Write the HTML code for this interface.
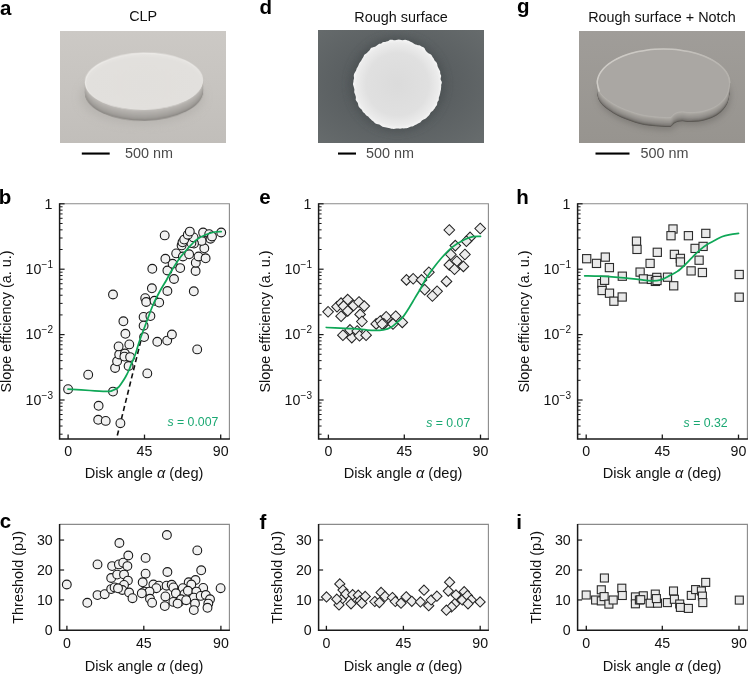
<!DOCTYPE html>
<html><head><meta charset="utf-8"><title>Figure</title>
<style>html,body{margin:0;padding:0;background:#fff;}body{width:748px;height:674px;overflow:hidden;}svg{display:block;}</style>
</head><body>
<svg width="748" height="674" viewBox="0 0 748 674" style="will-change:transform">
<style>
text{font-family:"Liberation Sans",sans-serif;fill:#111;}
.t{font-size:14.2px;}
.s{font-size:10px;}
.L{font-size:20.5px;font-weight:bold;fill:#000;}
.T{font-size:14.4px;}
.X{font-size:14.6px;}
.g{font-size:12.3px;fill:#1aa872;}
.sb{font-size:14.4px;fill:#4a4a4a;}
</style>
<rect width="748" height="674" fill="#fff"/>
<svg x="60" y="31" width="166" height="112" viewBox="0 0 166 112" overflow="hidden">
<defs>
<linearGradient id="abg" x1="0" y1="0" x2="0" y2="1"><stop offset="0" stop-color="#ccc9c5"/><stop offset="0.5" stop-color="#c7c4c0"/><stop offset="1" stop-color="#c1beba"/></linearGradient>
<radialGradient id="atop" cx="0.5" cy="0.55" r="0.6"><stop offset="0" stop-color="#e1dfdc"/><stop offset="0.8" stop-color="#e2e0dd"/><stop offset="1" stop-color="#e9e7e4"/></radialGradient>
<linearGradient id="aside" x1="0" y1="0" x2="0" y2="1"><stop offset="0" stop-color="#c9c6c2"/><stop offset="0.6" stop-color="#b3b0ac"/><stop offset="1" stop-color="#93908c"/></linearGradient>
<filter id="ablur" x="-30%" y="-30%" width="160%" height="160%"><feGaussianBlur stdDeviation="4"/></filter>
<filter id="ablur1"><feGaussianBlur stdDeviation="0.55"/></filter>
</defs>
<rect width="166" height="112" fill="url(#abg)"/>
<ellipse cx="82" cy="66" rx="62" ry="28" fill="#b3b0ac" filter="url(#ablur)" opacity="0.7"/>
<g filter="url(#ablur1)" transform="rotate(-1.2 84 55)">
<ellipse cx="84" cy="61.10" rx="59.1" ry="28.6" fill="#86837f"/>
<ellipse cx="84" cy="60.49" rx="59.1" ry="28.6" fill="#8e8b87"/>
<ellipse cx="84" cy="59.89" rx="59.1" ry="28.6" fill="#96938f"/>
<ellipse cx="84" cy="59.28" rx="59.1" ry="28.6" fill="#9a9793"/>
<ellipse cx="84" cy="58.68" rx="59.1" ry="28.6" fill="#9e9b97"/>
<ellipse cx="84" cy="58.07" rx="59.1" ry="28.6" fill="#a19e9a"/>
<ellipse cx="84" cy="57.47" rx="59.1" ry="28.6" fill="#a4a19d"/>
<ellipse cx="84" cy="56.86" rx="59.1" ry="28.6" fill="#a6a39f"/>
<ellipse cx="84" cy="56.26" rx="59.1" ry="28.6" fill="#a8a5a1"/>
<ellipse cx="84" cy="55.65" rx="59.1" ry="28.6" fill="#aaa8a4"/>
<ellipse cx="84" cy="55.04" rx="59.1" ry="28.6" fill="#adaaa6"/>
<ellipse cx="84" cy="54.44" rx="59.1" ry="28.6" fill="#afaca8"/>
<ellipse cx="84" cy="53.83" rx="59.1" ry="28.6" fill="#b1aeaa"/>
<ellipse cx="84" cy="53.23" rx="59.1" ry="28.6" fill="#b3b0ac"/>
<ellipse cx="84" cy="52.62" rx="59.1" ry="28.6" fill="#b6b3af"/>
<ellipse cx="84" cy="52.02" rx="59.1" ry="28.6" fill="#b9b6b2"/>
<ellipse cx="84" cy="51.41" rx="59.1" ry="28.6" fill="#bcb9b5"/>
<ellipse cx="84" cy="50.81" rx="59.1" ry="28.6" fill="#bfbcb8"/>
<ellipse cx="84" cy="50.2" rx="59.1" ry="28.6" fill="#ebe9e6"/>
<ellipse cx="84.4" cy="50.8" rx="58.3" ry="27.8" fill="url(#atop)"/>
</g>
</svg>
<svg x="318" y="30" width="166" height="113" viewBox="0 0 166 113" overflow="hidden">
<defs>
<radialGradient id="dbg" cx="0.48" cy="0.48" r="0.72"><stop offset="0" stop-color="#4d5254"/><stop offset="0.5" stop-color="#5b6062"/><stop offset="1" stop-color="#676c6d"/></radialGradient>
<radialGradient id="dc" cx="0.5" cy="0.5" r="0.5"><stop offset="0" stop-color="#dbdbdb"/><stop offset="0.7" stop-color="#e0e0e0"/><stop offset="0.92" stop-color="#ebebeb"/><stop offset="1" stop-color="#f5f5f5"/></radialGradient>
<filter id="drough" x="-10%" y="-10%" width="120%" height="120%"><feGaussianBlur stdDeviation="0.45"/></filter>
<filter id="dsh" x="-30%" y="-30%" width="160%" height="160%"><feGaussianBlur stdDeviation="4"/></filter>
</defs>
<rect width="166" height="113" fill="url(#dbg)"/>
<circle cx="79.4" cy="54.2" r="47" fill="#4a4f51" filter="url(#dsh)" opacity="0.8"/>
<polygon points="123.32,54.30 123.16,55.56 123.21,56.83 123.04,58.08 122.99,59.35 122.75,60.59 122.41,61.81 122.23,63.06 121.93,64.28 121.61,65.50 121.14,66.67 120.78,67.87 120.84,69.22 120.59,70.48 119.74,71.50 119.20,72.64 119.16,74.02 118.85,75.30 118.01,76.29 117.31,77.36 116.66,78.45 115.79,79.40 115.12,80.47 114.19,81.36 113.11,82.10 112.31,83.05 111.77,84.25 111.09,85.35 110.09,86.13 109.25,87.08 108.38,88.01 107.33,88.73 106.24,89.37 105.03,89.84 103.93,90.43 103.08,91.41 102.22,92.41 101.10,92.99 99.96,93.51 98.90,94.21 97.74,94.69 96.60,95.23 95.56,96.01 94.35,96.40 93.06,96.52 91.89,96.96 90.74,97.56 89.57,98.08 88.29,98.19 87.02,98.27 85.79,98.51 84.50,98.35 83.25,98.51 82.01,98.77 80.75,98.58 79.50,98.43 78.25,98.44 76.98,98.79 75.71,98.98 74.44,98.86 73.20,98.63 71.98,98.24 70.74,98.05 69.49,97.85 68.29,97.43 67.06,97.14 65.75,97.08 64.53,96.72 63.45,96.00 62.40,95.23 61.32,94.57 60.06,94.28 58.76,94.05 57.54,93.62 56.56,92.76 55.77,91.65 54.73,90.93 53.70,90.21 52.86,89.25 51.90,88.44 51.01,87.56 50.22,86.57 49.15,85.89 48.04,85.23 47.32,84.17 46.58,83.15 45.47,82.44 44.58,81.53 44.09,80.32 43.35,79.30 42.32,78.46 41.38,77.54 40.64,76.49 40.26,75.24 40.08,73.90 39.69,72.69 38.96,71.63 38.04,70.62 37.66,69.40 37.89,67.97 37.83,66.68 37.44,65.48 37.00,64.30 36.47,63.12 36.18,61.88 36.34,60.58 36.37,59.31 36.02,58.08 35.70,56.83 35.31,55.58 34.98,54.30 35.14,53.02 35.42,51.75 35.47,50.48 35.78,49.23 36.09,47.99 35.86,46.66 35.79,45.34 36.06,44.09 36.57,42.89 37.29,41.77 37.96,40.65 38.38,39.46 38.74,38.25 39.46,37.18 40.13,36.11 40.56,34.93 41.03,33.77 41.62,32.66 42.42,31.68 43.16,30.68 43.77,29.59 44.37,28.48 45.06,27.44 45.69,26.33 46.11,25.04 47.00,24.13 48.22,23.55 49.15,22.71 49.96,21.74 50.92,20.94 51.80,20.04 52.41,18.77 53.29,17.83 54.56,17.41 55.83,17.05 57.07,16.67 58.17,16.09 59.17,15.32 60.15,14.49 61.21,13.79 62.52,13.65 63.67,13.18 64.65,12.20 65.88,11.91 67.18,11.88 68.40,11.58 69.62,11.34 70.76,10.66 71.89,9.85 73.15,9.63 74.46,9.86 75.75,10.15 77.01,10.25 78.25,10.06 79.50,9.69 80.76,9.54 82.02,9.68 83.25,10.12 84.49,10.27 85.82,9.88 87.13,9.73 88.37,10.03 89.60,10.39 90.82,10.75 91.96,11.38 93.06,12.10 94.23,12.55 95.34,13.14 96.35,13.96 97.47,14.49 98.68,14.83 99.93,15.15 101.27,15.32 102.47,15.79 103.48,16.57 104.67,17.08 105.86,17.62 106.72,18.61 107.33,19.88 108.03,21.00 108.91,21.89 109.80,22.77 110.81,23.53 112.03,24.10 113.18,24.79 113.93,25.83 114.50,27.00 115.31,27.99 115.95,29.10 116.38,30.33 117.30,31.25 118.31,32.14 118.90,33.28 119.29,34.51 119.48,35.84 119.87,37.04 120.54,38.14 121.05,39.31 121.73,40.42 122.21,41.62 122.13,42.97 122.42,44.21 123.07,45.37 123.11,46.67 122.69,48.02 122.58,49.30 123.04,50.52 123.77,51.74 123.86,53.02" fill="url(#dc)" filter="url(#drough)"/>
</svg>
<svg x="579" y="31" width="166" height="112" viewBox="0 0 166 112" overflow="hidden">
<defs>
<linearGradient id="gbg" x1="0" y1="0" x2="0" y2="1"><stop offset="0" stop-color="#a09d99"/><stop offset="1" stop-color="#97948f"/></linearGradient>
<linearGradient id="gside" x1="0" y1="0.45" x2="0" y2="0.85" gradientUnits="objectBoundingBox"><stop offset="0" stop-color="#aeaba6"/><stop offset="0.5" stop-color="#95928e"/><stop offset="1" stop-color="#64615d"/></linearGradient>
<filter id="gbl" x="-30%" y="-30%" width="160%" height="160%"><feGaussianBlur stdDeviation="3"/></filter>
<filter id="gbl1"><feGaussianBlur stdDeviation="0.5"/></filter>
</defs>
<rect width="166" height="112" fill="url(#gbg)"/>
<path d="M151.7 64.5C151.60 63.76 151.51 61.53 151.13 60.06C150.75 58.59 150.19 57.13 149.44 55.7C148.69 54.27 147.76 52.86 146.66 51.49C145.56 50.12 144.27 48.78 142.83 47.5C141.39 46.22 139.77 44.97 138.02 43.8C136.27 42.63 134.35 41.51 132.31 40.46C130.27 39.41 128.09 38.43 125.8 37.53C123.52 36.63 121.09 35.80 118.6 35.06C116.10 34.32 113.49 33.66 110.83 33.09C108.17 32.52 105.41 32.04 102.63 31.66C99.85 31.28 97.00 30.98 94.14 30.79C91.28 30.60 88.38 30.50 85.5 30.5C82.62 30.50 79.72 30.60 76.86 30.79C74.00 30.98 71.15 31.28 68.37 31.66C65.59 32.04 62.83 32.52 60.17 33.09C57.51 33.66 54.89 34.32 52.4 35.06C49.91 35.80 47.48 36.63 45.2 37.53C42.92 38.43 40.73 39.41 38.69 40.46C36.65 41.51 34.73 42.63 32.980000000000004 43.8C31.23 44.97 29.61 46.22 28.17 47.5C26.73 48.78 25.44 50.12 24.34 51.49C23.24 52.86 22.30 54.27 21.56 55.7C20.81 57.13 20.25 58.59 19.87 60.06C19.49 61.53 19.06 62.33 19.3 64.5C19.54 66.67 19.62 70.28 21.3 73.1C22.98 75.92 25.73 78.67 29.4 81.4C33.07 84.13 37.87 87.07 43.3 89.5C48.73 91.93 56.22 94.52 62.0 96.0C67.78 97.48 73.18 97.88 78.0 98.4C82.82 98.92 88.30 99.15 90.9 99.1C93.50 99.05 92.72 98.70 93.6 98.1C94.48 97.50 95.13 96.22 96.2 95.5C97.27 94.78 98.57 94.17 100.0 93.8C101.43 93.43 102.80 93.25 104.8 93.3C106.80 93.35 108.82 94.15 112.0 94.1C115.18 94.05 119.95 93.85 123.9 93.0C127.85 92.15 132.35 90.67 135.7 89.0C139.05 87.33 141.70 85.33 144.0 83.0C146.30 80.67 148.22 78.08 149.5 75.0C150.78 71.92 151.33 66.25 151.7 64.5Z" fill="#6a6763" filter="url(#gbl)" opacity="0.55"/>
<g filter="url(#gbl1)">
<path d="M150.7 61.4C150.60 60.66 150.51 58.43 150.13 56.96C149.75 55.49 149.19 54.03 148.44 52.6C147.69 51.17 146.76 49.76 145.66 48.39C144.56 47.02 143.27 45.68 141.83 44.4C140.39 43.12 138.77 41.87 137.02 40.7C135.27 39.53 133.35 38.41 131.31 37.36C129.27 36.31 127.08 35.33 124.8 34.43C122.52 33.53 120.09 32.70 117.6 31.96C115.10 31.22 112.49 30.56 109.83 29.990000000000002C107.17 29.42 104.41 28.94 101.63 28.560000000000002C98.85 28.18 96.00 27.88 93.14 27.689999999999998C90.28 27.50 87.38 27.40 84.5 27.4C81.62 27.40 78.72 27.50 75.86 27.689999999999998C73.00 27.88 70.15 28.18 67.37 28.560000000000002C64.59 28.94 61.83 29.42 59.17 29.990000000000002C56.51 30.56 53.89 31.22 51.4 31.96C48.91 32.70 46.48 33.53 44.2 34.43C41.92 35.33 39.73 36.31 37.69 37.36C35.65 38.41 33.73 39.53 31.98 40.7C30.23 41.87 28.61 43.12 27.17 44.4C25.73 45.68 24.44 47.02 23.34 48.39C22.24 49.76 21.30 51.17 20.56 52.6C19.81 54.03 19.25 55.49 18.87 56.96C18.49 58.43 18.06 59.23 18.3 61.4C18.54 63.57 18.62 67.18 20.3 70.0C21.98 72.82 24.73 75.57 28.4 78.30000000000001C32.07 81.03 36.87 83.97 42.3 86.4C47.73 88.83 55.22 91.42 61 92.9C66.78 94.38 72.18 94.78 77 95.30000000000001C81.82 95.82 87.30 96.05 89.9 96.0C92.50 95.95 91.72 95.60 92.6 95.0C93.48 94.40 94.13 93.12 95.2 92.4C96.27 91.68 97.57 91.07 99 90.7C100.43 90.33 101.80 90.15 103.8 90.2C105.80 90.25 107.82 91.05 111 91.0C114.18 90.95 118.95 90.75 122.9 89.9C126.85 89.05 131.35 87.57 134.7 85.9C138.05 84.23 140.70 82.23 143 79.9C145.30 77.57 147.22 74.98 148.5 71.9C149.78 68.82 150.33 63.15 150.7 61.4Z" fill="#575450"/>
<path d="M150.7 60.87777777777778C150.60 60.14 150.51 57.90 150.13 56.43777777777778C149.75 54.97 149.19 53.51 148.44 52.07777777777778C147.69 50.65 146.76 49.23 145.66 47.86777777777778C144.56 46.50 143.27 45.16 141.83 43.87777777777778C140.39 42.60 138.77 41.35 137.02 40.17777777777778C135.27 39.00 133.35 37.88 131.31 36.83777777777778C129.27 35.79 127.08 34.81 124.8 33.90777777777778C122.52 33.01 120.09 32.18 117.6 31.437777777777775C115.10 30.70 112.49 30.03 109.83 29.467777777777776C107.17 28.90 104.41 28.42 101.63 28.037777777777777C98.85 27.65 96.00 27.36 93.14 27.16777777777778C90.28 26.97 87.38 26.88 84.5 26.87777777777778C81.62 26.88 78.72 26.97 75.86 27.16777777777778C73.00 27.36 70.15 27.65 67.37 28.037777777777777C64.59 28.42 61.83 28.90 59.17 29.467777777777776C56.51 30.03 53.89 30.70 51.4 31.437777777777775C48.91 32.18 46.48 33.01 44.2 33.90777777777778C41.92 34.81 39.73 35.79 37.69 36.83777777777778C35.65 37.88 33.73 39.00 31.98 40.17777777777778C30.23 41.35 28.61 42.60 27.17 43.87777777777778C25.73 45.16 24.44 46.50 23.34 47.86777777777778C22.24 49.23 21.30 50.65 20.56 52.07777777777778C19.81 53.51 19.25 54.97 18.87 56.43777777777778C18.49 57.90 18.06 58.70 18.3 60.87777777777778C18.54 63.05 18.62 66.66 20.3 69.47777777777777C21.98 72.29 24.73 75.04 28.4 77.77777777777779C32.07 80.51 36.87 83.44 42.3 85.87777777777778C47.73 88.31 55.22 90.89 61 92.37777777777778C66.78 93.86 72.18 94.26 77 94.77777777777779C81.82 95.29 87.30 95.53 89.9 95.47777777777777C92.50 95.43 91.72 95.08 92.6 94.47777777777777C93.48 93.88 94.13 92.59 95.2 91.87777777777778C96.27 91.16 97.57 90.54 99 90.17777777777778C100.43 89.81 101.80 89.63 103.8 89.67777777777778C105.80 89.73 107.82 90.53 111 90.47777777777777C114.18 90.43 118.95 90.23 122.9 89.37777777777778C126.85 88.53 131.35 87.04 134.7 85.37777777777778C138.05 83.71 140.70 81.71 143 79.37777777777778C145.30 77.04 147.22 74.46 148.5 71.37777777777778C149.78 68.29 150.33 62.63 150.7 60.87777777777778Z" fill="#64615d"/>
<path d="M150.7 60.355555555555554C150.60 59.62 150.51 57.38 150.13 55.91555555555556C149.75 54.45 149.19 52.98 148.44 51.55555555555556C147.69 50.13 146.76 48.71 145.66 47.345555555555556C144.56 45.98 143.27 44.64 141.83 43.355555555555554C140.39 42.07 138.77 40.83 137.02 39.65555555555556C135.27 38.48 133.35 37.36 131.31 36.315555555555555C129.27 35.27 127.08 34.29 124.8 33.385555555555555C122.52 32.49 120.09 31.66 117.6 30.915555555555557C115.10 30.18 112.49 29.51 109.83 28.945555555555558C107.17 28.38 104.41 27.90 101.63 27.515555555555558C98.85 27.13 96.00 26.84 93.14 26.645555555555553C90.28 26.45 87.38 26.36 84.5 26.355555555555554C81.62 26.36 78.72 26.45 75.86 26.645555555555553C73.00 26.84 70.15 27.13 67.37 27.515555555555558C64.59 27.90 61.83 28.38 59.17 28.945555555555558C56.51 29.51 53.89 30.18 51.4 30.915555555555557C48.91 31.66 46.48 32.49 44.2 33.385555555555555C41.92 34.29 39.73 35.27 37.69 36.315555555555555C35.65 37.36 33.73 38.48 31.98 39.65555555555556C30.23 40.83 28.61 42.07 27.17 43.355555555555554C25.73 44.64 24.44 45.98 23.34 47.345555555555556C22.24 48.71 21.30 50.13 20.56 51.55555555555556C19.81 52.98 19.25 54.45 18.87 55.91555555555556C18.49 57.38 18.06 58.18 18.3 60.355555555555554C18.54 62.53 18.62 66.14 20.3 68.95555555555556C21.98 71.77 24.73 74.52 28.4 77.25555555555556C32.07 79.99 36.87 82.92 42.3 85.35555555555555C47.73 87.79 55.22 90.37 61 91.85555555555555C66.78 93.34 72.18 93.74 77 94.25555555555556C81.82 94.77 87.30 95.01 89.9 94.95555555555555C92.50 94.91 91.72 94.56 92.6 93.95555555555555C93.48 93.36 94.13 92.07 95.2 91.35555555555555C96.27 90.64 97.57 90.02 99 89.65555555555555C100.43 89.29 101.80 89.11 103.8 89.15555555555555C105.80 89.21 107.82 90.01 111 89.95555555555555C114.18 89.91 118.95 89.71 122.9 88.85555555555555C126.85 88.01 131.35 86.52 134.7 84.85555555555555C138.05 83.19 140.70 81.19 143 78.85555555555555C145.30 76.52 147.22 73.94 148.5 70.85555555555555C149.78 67.77 150.33 62.11 150.7 60.355555555555554Z" fill="#726f6b"/>
<path d="M150.7 59.833333333333336C150.60 59.09 150.51 56.86 150.13 55.39333333333334C149.75 53.93 149.19 52.46 148.44 51.03333333333334C147.69 49.61 146.76 48.19 145.66 46.82333333333334C144.56 45.46 143.27 44.12 141.83 42.833333333333336C140.39 41.55 138.77 40.31 137.02 39.13333333333333C135.27 37.96 133.35 36.84 131.31 35.79333333333334C129.27 34.75 127.08 33.76 124.8 32.86333333333334C122.52 31.96 120.09 31.13 117.6 30.39333333333333C115.10 29.65 112.49 28.99 109.83 28.423333333333332C107.17 27.86 104.41 27.38 101.63 26.993333333333332C98.85 26.61 96.00 26.32 93.14 26.12333333333333C90.28 25.93 87.38 25.83 84.5 25.833333333333332C81.62 25.83 78.72 25.93 75.86 26.12333333333333C73.00 26.32 70.15 26.61 67.37 26.993333333333332C64.59 27.38 61.83 27.86 59.17 28.423333333333332C56.51 28.99 53.89 29.65 51.4 30.39333333333333C48.91 31.13 46.48 31.96 44.2 32.86333333333334C41.92 33.76 39.73 34.75 37.69 35.79333333333334C35.65 36.84 33.73 37.96 31.98 39.13333333333333C30.23 40.31 28.61 41.55 27.17 42.833333333333336C25.73 44.12 24.44 45.46 23.34 46.82333333333334C22.24 48.19 21.30 49.61 20.56 51.03333333333334C19.81 52.46 19.25 53.93 18.87 55.39333333333334C18.49 56.86 18.06 57.66 18.3 59.833333333333336C18.54 62.01 18.62 65.62 20.3 68.43333333333334C21.98 71.25 24.73 74.00 28.4 76.73333333333333C32.07 79.47 36.87 82.40 42.3 84.83333333333333C47.73 87.27 55.22 89.85 61 91.33333333333333C66.78 92.82 72.18 93.22 77 93.73333333333333C81.82 94.25 87.30 94.48 89.9 94.43333333333332C92.50 94.38 91.72 94.03 92.6 93.43333333333332C93.48 92.83 94.13 91.55 95.2 90.83333333333333C96.27 90.12 97.57 89.50 99 89.13333333333333C100.43 88.77 101.80 88.58 103.8 88.63333333333333C105.80 88.68 107.82 89.48 111 89.43333333333332C114.18 89.38 118.95 89.18 122.9 88.33333333333333C126.85 87.48 131.35 86.00 134.7 84.33333333333333C138.05 82.67 140.70 80.67 143 78.33333333333333C145.30 76.00 147.22 73.42 148.5 70.33333333333333C149.78 67.25 150.33 61.58 150.7 59.833333333333336Z" fill="#7c7975"/>
<path d="M150.7 59.31111111111111C150.60 58.57 150.51 56.34 150.13 54.87111111111111C149.75 53.40 149.19 51.94 148.44 50.51111111111111C147.69 49.08 146.76 47.67 145.66 46.30111111111111C144.56 44.93 143.27 43.59 141.83 42.31111111111111C140.39 41.03 138.77 39.78 137.02 38.611111111111114C135.27 37.44 133.35 36.32 131.31 35.27111111111111C129.27 34.23 127.08 33.24 124.8 32.34111111111111C122.52 31.44 120.09 30.61 117.6 29.87111111111111C115.10 29.13 112.49 28.47 109.83 27.90111111111111C107.17 27.33 104.41 26.85 101.63 26.47111111111111C98.85 26.09 96.00 25.79 93.14 25.60111111111111C90.28 25.41 87.38 25.31 84.5 25.31111111111111C81.62 25.31 78.72 25.41 75.86 25.60111111111111C73.00 25.79 70.15 26.09 67.37 26.47111111111111C64.59 26.85 61.83 27.33 59.17 27.90111111111111C56.51 28.47 53.89 29.13 51.4 29.87111111111111C48.91 30.61 46.48 31.44 44.2 32.34111111111111C41.92 33.24 39.73 34.23 37.69 35.27111111111111C35.65 36.32 33.73 37.44 31.98 38.611111111111114C30.23 39.78 28.61 41.03 27.17 42.31111111111111C25.73 43.59 24.44 44.93 23.34 46.30111111111111C22.24 47.67 21.30 49.08 20.56 50.51111111111111C19.81 51.94 19.25 53.40 18.87 54.87111111111111C18.49 56.34 18.06 57.14 18.3 59.31111111111111C18.54 61.48 18.62 65.09 20.3 67.91111111111111C21.98 70.73 24.73 73.48 28.4 76.21111111111112C32.07 78.94 36.87 81.88 42.3 84.31111111111112C47.73 86.74 55.22 89.33 61 90.81111111111112C66.78 92.29 72.18 92.69 77 93.21111111111112C81.82 93.73 87.30 93.96 89.9 93.91111111111111C92.50 93.86 91.72 93.51 92.6 92.91111111111111C93.48 92.31 94.13 91.03 95.2 90.31111111111112C96.27 89.59 97.57 88.98 99 88.61111111111111C100.43 88.24 101.80 88.06 103.8 88.11111111111111C105.80 88.16 107.82 88.96 111 88.91111111111111C114.18 88.86 118.95 88.66 122.9 87.81111111111112C126.85 86.96 131.35 85.48 134.7 83.81111111111112C138.05 82.14 140.70 80.14 143 77.81111111111112C145.30 75.48 147.22 72.89 148.5 69.81111111111112C149.78 66.73 150.33 61.06 150.7 59.31111111111111Z" fill="#817e7a"/>
<path d="M150.7 58.78888888888889C150.60 58.05 150.51 55.82 150.13 54.348888888888894C149.75 52.88 149.19 51.42 148.44 49.988888888888894C147.69 48.56 146.76 47.15 145.66 45.77888888888889C144.56 44.41 143.27 43.07 141.83 41.78888888888889C140.39 40.51 138.77 39.26 137.02 38.08888888888889C135.27 36.92 133.35 35.79 131.31 34.74888888888889C129.27 33.70 127.08 32.72 124.8 31.81888888888889C122.52 30.92 120.09 30.09 117.6 29.348888888888887C115.10 28.61 112.49 27.95 109.83 27.378888888888888C107.17 26.81 104.41 26.33 101.63 25.948888888888888C98.85 25.57 96.00 25.27 93.14 25.078888888888887C90.28 24.89 87.38 24.79 84.5 24.788888888888888C81.62 24.79 78.72 24.89 75.86 25.078888888888887C73.00 25.27 70.15 25.57 67.37 25.948888888888888C64.59 26.33 61.83 26.81 59.17 27.378888888888888C56.51 27.95 53.89 28.61 51.4 29.348888888888887C48.91 30.09 46.48 30.92 44.2 31.81888888888889C41.92 32.72 39.73 33.70 37.69 34.74888888888889C35.65 35.79 33.73 36.92 31.98 38.08888888888889C30.23 39.26 28.61 40.51 27.17 41.78888888888889C25.73 43.07 24.44 44.41 23.34 45.77888888888889C22.24 47.15 21.30 48.56 20.56 49.988888888888894C19.81 51.42 19.25 52.88 18.87 54.348888888888894C18.49 55.82 18.06 56.62 18.3 58.78888888888889C18.54 60.96 18.62 64.57 20.3 67.38888888888889C21.98 70.21 24.73 72.96 28.4 75.6888888888889C32.07 78.42 36.87 81.36 42.3 83.78888888888889C47.73 86.22 55.22 88.81 61 90.28888888888889C66.78 91.77 72.18 92.17 77 92.6888888888889C81.82 93.21 87.30 93.44 89.9 93.38888888888889C92.50 93.34 91.72 92.99 92.6 92.38888888888889C93.48 91.79 94.13 90.51 95.2 89.78888888888889C96.27 89.07 97.57 88.46 99 88.08888888888889C100.43 87.72 101.80 87.54 103.8 87.58888888888889C105.80 87.64 107.82 88.44 111 88.38888888888889C114.18 88.34 118.95 88.14 122.9 87.28888888888889C126.85 86.44 131.35 84.96 134.7 83.28888888888889C138.05 81.62 140.70 79.62 143 77.28888888888889C145.30 74.96 147.22 72.37 148.5 69.28888888888889C149.78 66.21 150.33 60.54 150.7 58.78888888888889Z" fill="#86837f"/>
<path d="M150.7 58.266666666666666C150.60 57.53 150.51 55.29 150.13 53.82666666666667C149.75 52.36 149.19 50.90 148.44 49.46666666666667C147.69 48.04 146.76 46.62 145.66 45.25666666666667C144.56 43.89 143.27 42.55 141.83 41.266666666666666C140.39 39.98 138.77 38.74 137.02 37.56666666666667C135.27 36.39 133.35 35.27 131.31 34.22666666666667C129.27 33.18 127.08 32.20 124.8 31.296666666666667C122.52 30.40 120.09 29.57 117.6 28.826666666666668C115.10 28.09 112.49 27.42 109.83 26.85666666666667C107.17 26.29 104.41 25.81 101.63 25.42666666666667C98.85 25.04 96.00 24.75 93.14 24.556666666666665C90.28 24.36 87.38 24.27 84.5 24.266666666666666C81.62 24.27 78.72 24.36 75.86 24.556666666666665C73.00 24.75 70.15 25.04 67.37 25.42666666666667C64.59 25.81 61.83 26.29 59.17 26.85666666666667C56.51 27.42 53.89 28.09 51.4 28.826666666666668C48.91 29.57 46.48 30.40 44.2 31.296666666666667C41.92 32.20 39.73 33.18 37.69 34.22666666666667C35.65 35.27 33.73 36.39 31.98 37.56666666666667C30.23 38.74 28.61 39.98 27.17 41.266666666666666C25.73 42.55 24.44 43.89 23.34 45.25666666666667C22.24 46.62 21.30 48.04 20.56 49.46666666666667C19.81 50.90 19.25 52.36 18.87 53.82666666666667C18.49 55.29 18.06 56.09 18.3 58.266666666666666C18.54 60.44 18.62 64.05 20.3 66.86666666666667C21.98 69.68 24.73 72.43 28.4 75.16666666666667C32.07 77.90 36.87 80.83 42.3 83.26666666666667C47.73 85.70 55.22 88.28 61 89.76666666666667C66.78 91.25 72.18 91.65 77 92.16666666666667C81.82 92.68 87.30 92.92 89.9 92.86666666666666C92.50 92.82 91.72 92.47 92.6 91.86666666666666C93.48 91.27 94.13 89.98 95.2 89.26666666666667C96.27 88.55 97.57 87.93 99 87.56666666666666C100.43 87.20 101.80 87.02 103.8 87.06666666666666C105.80 87.12 107.82 87.92 111 87.86666666666666C114.18 87.82 118.95 87.62 122.9 86.76666666666667C126.85 85.92 131.35 84.43 134.7 82.76666666666667C138.05 81.10 140.70 79.10 143 76.76666666666667C145.30 74.43 147.22 71.85 148.5 68.76666666666667C149.78 65.68 150.33 60.02 150.7 58.266666666666666Z" fill="#8b8884"/>
<path d="M150.7 57.74444444444445C150.60 57.00 150.51 54.77 150.13 53.30444444444445C149.75 51.84 149.19 50.37 148.44 48.94444444444445C147.69 47.52 146.76 46.10 145.66 44.73444444444445C144.56 43.37 143.27 42.03 141.83 40.74444444444445C140.39 39.46 138.77 38.22 137.02 37.044444444444444C135.27 35.87 133.35 34.75 131.31 33.70444444444445C129.27 32.66 127.08 31.67 124.8 30.774444444444445C122.52 29.87 120.09 29.04 117.6 28.304444444444442C115.10 27.56 112.49 26.90 109.83 26.334444444444443C107.17 25.77 104.41 25.29 101.63 24.904444444444444C98.85 24.52 96.00 24.23 93.14 24.034444444444443C90.28 23.84 87.38 23.74 84.5 23.744444444444444C81.62 23.74 78.72 23.84 75.86 24.034444444444443C73.00 24.23 70.15 24.52 67.37 24.904444444444444C64.59 25.29 61.83 25.77 59.17 26.334444444444443C56.51 26.90 53.89 27.56 51.4 28.304444444444442C48.91 29.04 46.48 29.87 44.2 30.774444444444445C41.92 31.67 39.73 32.66 37.69 33.70444444444445C35.65 34.75 33.73 35.87 31.98 37.044444444444444C30.23 38.22 28.61 39.46 27.17 40.74444444444445C25.73 42.03 24.44 43.37 23.34 44.73444444444445C22.24 46.10 21.30 47.52 20.56 48.94444444444445C19.81 50.37 19.25 51.84 18.87 53.30444444444445C18.49 54.77 18.06 55.57 18.3 57.74444444444445C18.54 59.92 18.62 63.53 20.3 66.34444444444445C21.98 69.16 24.73 71.91 28.4 74.64444444444445C32.07 77.38 36.87 80.31 42.3 82.74444444444444C47.73 85.18 55.22 87.76 61 89.24444444444444C66.78 90.73 72.18 91.13 77 91.64444444444445C81.82 92.16 87.30 92.39 89.9 92.34444444444443C92.50 92.29 91.72 91.94 92.6 91.34444444444443C93.48 90.74 94.13 89.46 95.2 88.74444444444444C96.27 88.03 97.57 87.41 99 87.04444444444444C100.43 86.68 101.80 86.49 103.8 86.54444444444444C105.80 86.59 107.82 87.39 111 87.34444444444443C114.18 87.29 118.95 87.09 122.9 86.24444444444444C126.85 85.39 131.35 83.91 134.7 82.24444444444444C138.05 80.58 140.70 78.58 143 76.24444444444444C145.30 73.91 147.22 71.33 148.5 68.24444444444444C149.78 65.16 150.33 59.49 150.7 57.74444444444445Z" fill="#908d89"/>
<path d="M150.7 57.22222222222222C150.60 56.48 150.51 54.25 150.13 52.782222222222224C149.75 51.32 149.19 49.85 148.44 48.422222222222224C147.69 46.99 146.76 45.58 145.66 44.21222222222222C144.56 42.85 143.27 41.50 141.83 40.22222222222222C140.39 38.94 138.77 37.70 137.02 36.522222222222226C135.27 35.35 133.35 34.23 131.31 33.18222222222222C129.27 32.14 127.08 31.15 124.8 30.252222222222223C122.52 29.35 120.09 28.52 117.6 27.78222222222222C115.10 27.04 112.49 26.38 109.83 25.81222222222222C107.17 25.25 104.41 24.77 101.63 24.38222222222222C98.85 24.00 96.00 23.71 93.14 23.51222222222222C90.28 23.32 87.38 23.22 84.5 23.22222222222222C81.62 23.22 78.72 23.32 75.86 23.51222222222222C73.00 23.71 70.15 24.00 67.37 24.38222222222222C64.59 24.77 61.83 25.25 59.17 25.81222222222222C56.51 26.38 53.89 27.04 51.4 27.78222222222222C48.91 28.52 46.48 29.35 44.2 30.252222222222223C41.92 31.15 39.73 32.14 37.69 33.18222222222222C35.65 34.23 33.73 35.35 31.98 36.522222222222226C30.23 37.70 28.61 38.94 27.17 40.22222222222222C25.73 41.50 24.44 42.85 23.34 44.21222222222222C22.24 45.58 21.30 46.99 20.56 48.422222222222224C19.81 49.85 19.25 51.32 18.87 52.782222222222224C18.49 54.25 18.06 55.05 18.3 57.22222222222222C18.54 59.40 18.62 63.01 20.3 65.82222222222222C21.98 68.64 24.73 71.39 28.4 74.12222222222223C32.07 76.86 36.87 79.79 42.3 82.22222222222223C47.73 84.66 55.22 87.24 61 88.72222222222223C66.78 90.21 72.18 90.61 77 91.12222222222223C81.82 91.64 87.30 91.87 89.9 91.82222222222222C92.50 91.77 91.72 91.42 92.6 90.82222222222222C93.48 90.22 94.13 88.94 95.2 88.22222222222223C96.27 87.51 97.57 86.89 99 86.52222222222223C100.43 86.16 101.80 85.97 103.8 86.02222222222223C105.80 86.07 107.82 86.87 111 86.82222222222222C114.18 86.77 118.95 86.57 122.9 85.72222222222223C126.85 84.87 131.35 83.39 134.7 81.72222222222223C138.05 80.06 140.70 78.06 143 75.72222222222223C145.30 73.39 147.22 70.81 148.5 67.72222222222223C149.78 64.64 150.33 58.97 150.7 57.22222222222222Z" fill="#93908c"/>
<path d="M150.7 56.7C150.60 55.96 150.51 53.73 150.13 52.260000000000005C149.75 50.79 149.19 49.33 148.44 47.900000000000006C147.69 46.47 146.76 45.06 145.66 43.690000000000005C144.56 42.32 143.27 40.98 141.83 39.7C140.39 38.42 138.77 37.17 137.02 36.0C135.27 34.83 133.35 33.71 131.31 32.660000000000004C129.27 31.62 127.08 30.63 124.8 29.73C122.52 28.83 120.09 28.00 117.6 27.259999999999998C115.10 26.52 112.49 25.86 109.83 25.29C107.17 24.72 104.41 24.24 101.63 23.86C98.85 23.48 96.00 23.18 93.14 22.99C90.28 22.80 87.38 22.70 84.5 22.7C81.62 22.70 78.72 22.80 75.86 22.99C73.00 23.18 70.15 23.48 67.37 23.86C64.59 24.24 61.83 24.72 59.17 25.29C56.51 25.86 53.89 26.52 51.4 27.259999999999998C48.91 28.00 46.48 28.83 44.2 29.73C41.92 30.63 39.73 31.62 37.69 32.660000000000004C35.65 33.71 33.73 34.83 31.98 36.0C30.23 37.17 28.61 38.42 27.17 39.7C25.73 40.98 24.44 42.32 23.34 43.690000000000005C22.24 45.06 21.30 46.47 20.56 47.900000000000006C19.81 49.33 19.25 50.79 18.87 52.260000000000005C18.49 53.73 18.06 54.53 18.3 56.7C18.54 58.87 18.62 62.48 20.3 65.3C21.98 68.12 24.73 70.87 28.4 73.60000000000001C32.07 76.33 36.87 79.27 42.3 81.7C47.73 84.13 55.22 86.72 61 88.2C66.78 89.68 72.18 90.08 77 90.60000000000001C81.82 91.12 87.30 91.35 89.9 91.3C92.50 91.25 91.72 90.90 92.6 90.3C93.48 89.70 94.13 88.42 95.2 87.7C96.27 86.98 97.57 86.37 99 86.0C100.43 85.63 101.80 85.45 103.8 85.5C105.80 85.55 107.82 86.35 111 86.3C114.18 86.25 118.95 86.05 122.9 85.2C126.85 84.35 131.35 82.87 134.7 81.2C138.05 79.53 140.70 77.53 143 75.2C145.30 72.87 147.22 70.28 148.5 67.2C149.78 64.12 150.33 58.45 150.7 56.7Z" fill="#96938f"/>
<path d="M150.7 56.17777777777778C150.60 55.44 150.51 53.20 150.13 51.73777777777778C149.75 50.27 149.19 48.81 148.44 47.37777777777778C147.69 45.95 146.76 44.53 145.66 43.16777777777778C144.56 41.80 143.27 40.46 141.83 39.17777777777778C140.39 37.90 138.77 36.65 137.02 35.47777777777778C135.27 34.30 133.35 33.18 131.31 32.13777777777778C129.27 31.09 127.08 30.11 124.8 29.20777777777778C122.52 28.31 120.09 27.48 117.6 26.737777777777776C115.10 26.00 112.49 25.33 109.83 24.767777777777777C107.17 24.20 104.41 23.72 101.63 23.337777777777777C98.85 22.95 96.00 22.66 93.14 22.467777777777776C90.28 22.27 87.38 22.18 84.5 22.177777777777777C81.62 22.18 78.72 22.27 75.86 22.467777777777776C73.00 22.66 70.15 22.95 67.37 23.337777777777777C64.59 23.72 61.83 24.20 59.17 24.767777777777777C56.51 25.33 53.89 26.00 51.4 26.737777777777776C48.91 27.48 46.48 28.31 44.2 29.20777777777778C41.92 30.11 39.73 31.09 37.69 32.13777777777778C35.65 33.18 33.73 34.30 31.98 35.47777777777778C30.23 36.65 28.61 37.90 27.17 39.17777777777778C25.73 40.46 24.44 41.80 23.34 43.16777777777778C22.24 44.53 21.30 45.95 20.56 47.37777777777778C19.81 48.81 19.25 50.27 18.87 51.73777777777778C18.49 53.20 18.06 54.00 18.3 56.17777777777778C18.54 58.35 18.62 61.96 20.3 64.77777777777779C21.98 67.59 24.73 70.34 28.4 73.07777777777778C32.07 75.81 36.87 78.74 42.3 81.17777777777778C47.73 83.61 55.22 86.19 61 87.67777777777778C66.78 89.16 72.18 89.56 77 90.07777777777778C81.82 90.59 87.30 90.83 89.9 90.77777777777777C92.50 90.73 91.72 90.38 92.6 89.77777777777777C93.48 89.18 94.13 87.89 95.2 87.17777777777778C96.27 86.46 97.57 85.84 99 85.47777777777777C100.43 85.11 101.80 84.93 103.8 84.97777777777777C105.80 85.03 107.82 85.83 111 85.77777777777777C114.18 85.73 118.95 85.53 122.9 84.67777777777778C126.85 83.83 131.35 82.34 134.7 80.67777777777778C138.05 79.01 140.70 77.01 143 74.67777777777778C145.30 72.34 147.22 69.76 148.5 66.67777777777778C149.78 63.59 150.33 57.93 150.7 56.17777777777778Z" fill="#999692"/>
<path d="M150.7 55.65555555555556C150.60 54.92 150.51 52.68 150.13 51.21555555555556C149.75 49.75 149.19 48.28 148.44 46.85555555555556C147.69 45.43 146.76 44.01 145.66 42.64555555555556C144.56 41.28 143.27 39.94 141.83 38.65555555555556C140.39 37.37 138.77 36.13 137.02 34.955555555555556C135.27 33.78 133.35 32.66 131.31 31.615555555555556C129.27 30.57 127.08 29.59 124.8 28.685555555555556C122.52 27.79 120.09 26.96 117.6 26.215555555555554C115.10 25.48 112.49 24.81 109.83 24.245555555555555C107.17 23.68 104.41 23.20 101.63 22.815555555555555C98.85 22.43 96.00 22.14 93.14 21.945555555555554C90.28 21.75 87.38 21.66 84.5 21.655555555555555C81.62 21.66 78.72 21.75 75.86 21.945555555555554C73.00 22.14 70.15 22.43 67.37 22.815555555555555C64.59 23.20 61.83 23.68 59.17 24.245555555555555C56.51 24.81 53.89 25.48 51.4 26.215555555555554C48.91 26.96 46.48 27.79 44.2 28.685555555555556C41.92 29.59 39.73 30.57 37.69 31.615555555555556C35.65 32.66 33.73 33.78 31.98 34.955555555555556C30.23 36.13 28.61 37.37 27.17 38.65555555555556C25.73 39.94 24.44 41.28 23.34 42.64555555555556C22.24 44.01 21.30 45.43 20.56 46.85555555555556C19.81 48.28 19.25 49.75 18.87 51.21555555555556C18.49 52.68 18.06 53.48 18.3 55.65555555555556C18.54 57.83 18.62 61.44 20.3 64.25555555555556C21.98 67.07 24.73 69.82 28.4 72.55555555555556C32.07 75.29 36.87 78.22 42.3 80.65555555555555C47.73 83.09 55.22 85.67 61 87.15555555555555C66.78 88.64 72.18 89.04 77 89.55555555555556C81.82 90.07 87.30 90.31 89.9 90.25555555555555C92.50 90.21 91.72 89.86 92.6 89.25555555555555C93.48 88.66 94.13 87.37 95.2 86.65555555555555C96.27 85.94 97.57 85.32 99 84.95555555555555C100.43 84.59 101.80 84.41 103.8 84.45555555555555C105.80 84.51 107.82 85.31 111 85.25555555555555C114.18 85.21 118.95 85.01 122.9 84.15555555555555C126.85 83.31 131.35 81.82 134.7 80.15555555555555C138.05 78.49 140.70 76.49 143 74.15555555555555C145.30 71.82 147.22 69.24 148.5 66.15555555555555C149.78 63.07 150.33 57.41 150.7 55.65555555555556Z" fill="#9c9994"/>
<path d="M150.7 55.13333333333333C150.60 54.39 150.51 52.16 150.13 50.693333333333335C149.75 49.23 149.19 47.76 148.44 46.333333333333336C147.69 44.91 146.76 43.49 145.66 42.123333333333335C144.56 40.76 143.27 39.41 141.83 38.13333333333333C140.39 36.85 138.77 35.61 137.02 34.43333333333334C135.27 33.26 133.35 32.14 131.31 31.093333333333334C129.27 30.05 127.08 29.06 124.8 28.163333333333334C122.52 27.26 120.09 26.43 117.6 25.69333333333333C115.10 24.95 112.49 24.29 109.83 23.723333333333333C107.17 23.16 104.41 22.68 101.63 22.293333333333333C98.85 21.91 96.00 21.62 93.14 21.423333333333332C90.28 21.23 87.38 21.13 84.5 21.133333333333333C81.62 21.13 78.72 21.23 75.86 21.423333333333332C73.00 21.62 70.15 21.91 67.37 22.293333333333333C64.59 22.68 61.83 23.16 59.17 23.723333333333333C56.51 24.29 53.89 24.95 51.4 25.69333333333333C48.91 26.43 46.48 27.26 44.2 28.163333333333334C41.92 29.06 39.73 30.05 37.69 31.093333333333334C35.65 32.14 33.73 33.26 31.98 34.43333333333334C30.23 35.61 28.61 36.85 27.17 38.13333333333333C25.73 39.41 24.44 40.76 23.34 42.123333333333335C22.24 43.49 21.30 44.91 20.56 46.333333333333336C19.81 47.76 19.25 49.23 18.87 50.693333333333335C18.49 52.16 18.06 52.96 18.3 55.13333333333333C18.54 57.31 18.62 60.92 20.3 63.733333333333334C21.98 66.55 24.73 69.30 28.4 72.03333333333335C32.07 74.77 36.87 77.70 42.3 80.13333333333334C47.73 82.57 55.22 85.15 61 86.63333333333334C66.78 88.12 72.18 88.52 77 89.03333333333335C81.82 89.55 87.30 89.78 89.9 89.73333333333333C92.50 89.68 91.72 89.33 92.6 88.73333333333333C93.48 88.13 94.13 86.85 95.2 86.13333333333334C96.27 85.42 97.57 84.80 99 84.43333333333334C100.43 84.07 101.80 83.88 103.8 83.93333333333334C105.80 83.98 107.82 84.78 111 84.73333333333333C114.18 84.68 118.95 84.48 122.9 83.63333333333334C126.85 82.78 131.35 81.30 134.7 79.63333333333334C138.05 77.97 140.70 75.97 143 73.63333333333334C145.30 71.30 147.22 68.72 148.5 65.63333333333334C149.78 62.55 150.33 56.88 150.7 55.13333333333333Z" fill="#9f9c97"/>
<path d="M150.7 54.611111111111114C150.60 53.87 150.51 51.64 150.13 50.17111111111112C149.75 48.70 149.19 47.24 148.44 45.81111111111112C147.69 44.38 146.76 42.97 145.66 41.601111111111116C144.56 40.23 143.27 38.89 141.83 37.611111111111114C140.39 36.33 138.77 35.08 137.02 33.91111111111111C135.27 32.74 133.35 31.62 131.31 30.57111111111111C129.27 29.53 127.08 28.54 124.8 27.641111111111112C122.52 26.74 120.09 25.91 117.6 25.17111111111111C115.10 24.43 112.49 23.77 109.83 23.20111111111111C107.17 22.63 104.41 22.15 101.63 21.77111111111111C98.85 21.39 96.00 21.09 93.14 20.90111111111111C90.28 20.71 87.38 20.61 84.5 20.61111111111111C81.62 20.61 78.72 20.71 75.86 20.90111111111111C73.00 21.09 70.15 21.39 67.37 21.77111111111111C64.59 22.15 61.83 22.63 59.17 23.20111111111111C56.51 23.77 53.89 24.43 51.4 25.17111111111111C48.91 25.91 46.48 26.74 44.2 27.641111111111112C41.92 28.54 39.73 29.53 37.69 30.57111111111111C35.65 31.62 33.73 32.74 31.98 33.91111111111111C30.23 35.08 28.61 36.33 27.17 37.611111111111114C25.73 38.89 24.44 40.23 23.34 41.601111111111116C22.24 42.97 21.30 44.38 20.56 45.81111111111112C19.81 47.24 19.25 48.70 18.87 50.17111111111112C18.49 51.64 18.06 52.44 18.3 54.611111111111114C18.54 56.78 18.62 60.39 20.3 63.211111111111116C21.98 66.03 24.73 68.78 28.4 71.51111111111112C32.07 74.24 36.87 77.18 42.3 79.61111111111111C47.73 82.04 55.22 84.63 61 86.11111111111111C66.78 87.59 72.18 87.99 77 88.51111111111112C81.82 89.03 87.30 89.26 89.9 89.21111111111111C92.50 89.16 91.72 88.81 92.6 88.21111111111111C93.48 87.61 94.13 86.33 95.2 85.61111111111111C96.27 84.89 97.57 84.28 99 83.91111111111111C100.43 83.54 101.80 83.36 103.8 83.41111111111111C105.80 83.46 107.82 84.26 111 84.21111111111111C114.18 84.16 118.95 83.96 122.9 83.11111111111111C126.85 82.26 131.35 80.78 134.7 79.11111111111111C138.05 77.44 140.70 75.44 143 73.11111111111111C145.30 70.78 147.22 68.19 148.5 65.11111111111111C149.78 62.03 150.33 56.36 150.7 54.611111111111114Z" fill="#a29f9a"/>
<path d="M150.7 54.08888888888889C150.60 53.35 150.51 51.12 150.13 49.64888888888889C149.75 48.18 149.19 46.72 148.44 45.28888888888889C147.69 43.86 146.76 42.45 145.66 41.07888888888889C144.56 39.71 143.27 38.37 141.83 37.08888888888889C140.39 35.81 138.77 34.56 137.02 33.38888888888889C135.27 32.22 133.35 31.09 131.31 30.04888888888889C129.27 29.00 127.08 28.02 124.8 27.11888888888889C122.52 26.22 120.09 25.39 117.6 24.648888888888887C115.10 23.91 112.49 23.25 109.83 22.67888888888889C107.17 22.11 104.41 21.63 101.63 21.24888888888889C98.85 20.87 96.00 20.57 93.14 20.378888888888888C90.28 20.19 87.38 20.09 84.5 20.08888888888889C81.62 20.09 78.72 20.19 75.86 20.378888888888888C73.00 20.57 70.15 20.87 67.37 21.24888888888889C64.59 21.63 61.83 22.11 59.17 22.67888888888889C56.51 23.25 53.89 23.91 51.4 24.648888888888887C48.91 25.39 46.48 26.22 44.2 27.11888888888889C41.92 28.02 39.73 29.00 37.69 30.04888888888889C35.65 31.09 33.73 32.22 31.98 33.38888888888889C30.23 34.56 28.61 35.81 27.17 37.08888888888889C25.73 38.37 24.44 39.71 23.34 41.07888888888889C22.24 42.45 21.30 43.86 20.56 45.28888888888889C19.81 46.72 19.25 48.18 18.87 49.64888888888889C18.49 51.12 18.06 51.92 18.3 54.08888888888889C18.54 56.26 18.62 59.87 20.3 62.68888888888889C21.98 65.51 24.73 68.26 28.4 70.9888888888889C32.07 73.72 36.87 76.66 42.3 79.08888888888889C47.73 81.52 55.22 84.11 61 85.58888888888889C66.78 87.07 72.18 87.47 77 87.9888888888889C81.82 88.51 87.30 88.74 89.9 88.68888888888888C92.50 88.64 91.72 88.29 92.6 87.68888888888888C93.48 87.09 94.13 85.81 95.2 85.08888888888889C96.27 84.37 97.57 83.76 99 83.38888888888889C100.43 83.02 101.80 82.84 103.8 82.88888888888889C105.80 82.94 107.82 83.74 111 83.68888888888888C114.18 83.64 118.95 83.44 122.9 82.58888888888889C126.85 81.74 131.35 80.26 134.7 78.58888888888889C138.05 76.92 140.70 74.92 143 72.58888888888889C145.30 70.26 147.22 67.67 148.5 64.58888888888889C149.78 61.51 150.33 55.84 150.7 54.08888888888889Z" fill="#a5a29d"/>
<path d="M150.7 53.56666666666667C150.60 52.83 150.51 50.59 150.13 49.12666666666667C149.75 47.66 149.19 46.20 148.44 44.76666666666667C147.69 43.34 146.76 41.92 145.66 40.55666666666667C144.56 39.19 143.27 37.85 141.83 36.56666666666667C140.39 35.29 138.77 34.04 137.02 32.86666666666667C135.27 31.69 133.35 30.57 131.31 29.526666666666667C129.27 28.48 127.08 27.50 124.8 26.596666666666668C122.52 25.70 120.09 24.87 117.6 24.126666666666665C115.10 23.39 112.49 22.72 109.83 22.156666666666666C107.17 21.59 104.41 21.11 101.63 20.726666666666667C98.85 20.34 96.00 20.05 93.14 19.856666666666666C90.28 19.66 87.38 19.57 84.5 19.566666666666666C81.62 19.57 78.72 19.66 75.86 19.856666666666666C73.00 20.05 70.15 20.34 67.37 20.726666666666667C64.59 21.11 61.83 21.59 59.17 22.156666666666666C56.51 22.72 53.89 23.39 51.4 24.126666666666665C48.91 24.87 46.48 25.70 44.2 26.596666666666668C41.92 27.50 39.73 28.48 37.69 29.526666666666667C35.65 30.57 33.73 31.69 31.98 32.86666666666667C30.23 34.04 28.61 35.29 27.17 36.56666666666667C25.73 37.85 24.44 39.19 23.34 40.55666666666667C22.24 41.92 21.30 43.34 20.56 44.76666666666667C19.81 46.20 19.25 47.66 18.87 49.12666666666667C18.49 50.59 18.06 51.39 18.3 53.56666666666667C18.54 55.74 18.62 59.35 20.3 62.16666666666667C21.98 64.98 24.73 67.73 28.4 70.46666666666667C32.07 73.20 36.87 76.13 42.3 78.56666666666666C47.73 81.00 55.22 83.58 61 85.06666666666666C66.78 86.55 72.18 86.95 77 87.46666666666667C81.82 87.98 87.30 88.22 89.9 88.16666666666666C92.50 88.12 91.72 87.77 92.6 87.16666666666666C93.48 86.57 94.13 85.28 95.2 84.56666666666666C96.27 83.85 97.57 83.23 99 82.86666666666666C100.43 82.50 101.80 82.32 103.8 82.36666666666666C105.80 82.42 107.82 83.22 111 83.16666666666666C114.18 83.12 118.95 82.92 122.9 82.06666666666666C126.85 81.22 131.35 79.73 134.7 78.06666666666666C138.05 76.40 140.70 74.40 143 72.06666666666666C145.30 69.73 147.22 67.15 148.5 64.06666666666666C149.78 60.98 150.33 55.32 150.7 53.56666666666667Z" fill="#a9a6a1"/>
<path d="M150.7 53.044444444444444C150.60 52.30 150.51 50.07 150.13 48.60444444444445C149.75 47.14 149.19 45.67 148.44 44.24444444444445C147.69 42.82 146.76 41.40 145.66 40.034444444444446C144.56 38.67 143.27 37.33 141.83 36.044444444444444C140.39 34.76 138.77 33.52 137.02 32.34444444444445C135.27 31.17 133.35 30.05 131.31 29.004444444444445C129.27 27.96 127.08 26.97 124.8 26.074444444444445C122.52 25.17 120.09 24.34 117.6 23.604444444444443C115.10 22.86 112.49 22.20 109.83 21.634444444444444C107.17 21.07 104.41 20.59 101.63 20.204444444444444C98.85 19.82 96.00 19.53 93.14 19.334444444444443C90.28 19.14 87.38 19.04 84.5 19.044444444444444C81.62 19.04 78.72 19.14 75.86 19.334444444444443C73.00 19.53 70.15 19.82 67.37 20.204444444444444C64.59 20.59 61.83 21.07 59.17 21.634444444444444C56.51 22.20 53.89 22.86 51.4 23.604444444444443C48.91 24.34 46.48 25.17 44.2 26.074444444444445C41.92 26.97 39.73 27.96 37.69 29.004444444444445C35.65 30.05 33.73 31.17 31.98 32.34444444444445C30.23 33.52 28.61 34.76 27.17 36.044444444444444C25.73 37.33 24.44 38.67 23.34 40.034444444444446C22.24 41.40 21.30 42.82 20.56 44.24444444444445C19.81 45.67 19.25 47.14 18.87 48.60444444444445C18.49 50.07 18.06 50.87 18.3 53.044444444444444C18.54 55.22 18.62 58.83 20.3 61.644444444444446C21.98 64.46 24.73 67.21 28.4 69.94444444444446C32.07 72.68 36.87 75.61 42.3 78.04444444444445C47.73 80.48 55.22 83.06 61 84.54444444444445C66.78 86.03 72.18 86.43 77 86.94444444444446C81.82 87.46 87.30 87.69 89.9 87.64444444444445C92.50 87.59 91.72 87.24 92.6 86.64444444444445C93.48 86.04 94.13 84.76 95.2 84.04444444444445C96.27 83.33 97.57 82.71 99 82.34444444444445C100.43 81.98 101.80 81.79 103.8 81.84444444444445C105.80 81.89 107.82 82.69 111 82.64444444444445C114.18 82.59 118.95 82.39 122.9 81.54444444444445C126.85 80.69 131.35 79.21 134.7 77.54444444444445C138.05 75.88 140.70 73.88 143 71.54444444444445C145.30 69.21 147.22 66.63 148.5 63.544444444444444C149.78 60.46 150.33 54.79 150.7 53.044444444444444Z" fill="#aca9a4"/>
<path d="M150.7 52.522222222222226C150.60 51.78 150.51 49.55 150.13 48.08222222222223C149.75 46.62 149.19 45.15 148.44 43.72222222222223C147.69 42.29 146.76 40.88 145.66 39.51222222222223C144.56 38.15 143.27 36.80 141.83 35.522222222222226C140.39 34.24 138.77 33.00 137.02 31.822222222222223C135.27 30.65 133.35 29.53 131.31 28.482222222222223C129.27 27.44 127.08 26.45 124.8 25.552222222222223C122.52 24.65 120.09 23.82 117.6 23.08222222222222C115.10 22.34 112.49 21.68 109.83 21.112222222222222C107.17 20.55 104.41 20.07 101.63 19.682222222222222C98.85 19.30 96.00 19.01 93.14 18.81222222222222C90.28 18.62 87.38 18.52 84.5 18.522222222222222C81.62 18.52 78.72 18.62 75.86 18.81222222222222C73.00 19.01 70.15 19.30 67.37 19.682222222222222C64.59 20.07 61.83 20.55 59.17 21.112222222222222C56.51 21.68 53.89 22.34 51.4 23.08222222222222C48.91 23.82 46.48 24.65 44.2 25.552222222222223C41.92 26.45 39.73 27.44 37.69 28.482222222222223C35.65 29.53 33.73 30.65 31.98 31.822222222222223C30.23 33.00 28.61 34.24 27.17 35.522222222222226C25.73 36.80 24.44 38.15 23.34 39.51222222222223C22.24 40.88 21.30 42.29 20.56 43.72222222222223C19.81 45.15 19.25 46.62 18.87 48.08222222222223C18.49 49.55 18.06 50.35 18.3 52.522222222222226C18.54 54.70 18.62 58.31 20.3 61.12222222222223C21.98 63.94 24.73 66.69 28.4 69.42222222222223C32.07 72.16 36.87 75.09 42.3 77.52222222222223C47.73 79.96 55.22 82.54 61 84.02222222222223C66.78 85.51 72.18 85.91 77 86.42222222222223C81.82 86.94 87.30 87.17 89.9 87.12222222222222C92.50 87.07 91.72 86.72 92.6 86.12222222222222C93.48 85.52 94.13 84.24 95.2 83.52222222222223C96.27 82.81 97.57 82.19 99 81.82222222222222C100.43 81.46 101.80 81.27 103.8 81.32222222222222C105.80 81.37 107.82 82.17 111 82.12222222222222C114.18 82.07 118.95 81.87 122.9 81.02222222222223C126.85 80.17 131.35 78.69 134.7 77.02222222222223C138.05 75.36 140.70 73.36 143 71.02222222222223C145.30 68.69 147.22 66.11 148.5 63.022222222222226C149.78 59.94 150.33 54.27 150.7 52.522222222222226Z" fill="#b0ada8"/>
<path d="M150.7 52.0C150.60 51.26 150.51 49.03 150.13 47.56C149.75 46.09 149.19 44.63 148.44 43.2C147.69 41.77 146.76 40.36 145.66 38.99C144.56 37.62 143.27 36.28 141.83 35.0C140.39 33.72 138.77 32.47 137.02 31.3C135.27 30.13 133.35 29.01 131.31 27.96C129.27 26.91 127.08 25.93 124.8 25.03C122.52 24.13 120.09 23.30 117.6 22.56C115.10 21.82 112.49 21.16 109.83 20.59C107.17 20.02 104.41 19.54 101.63 19.16C98.85 18.78 96.00 18.48 93.14 18.29C90.28 18.10 87.38 18.00 84.5 18.0C81.62 18.00 78.72 18.10 75.86 18.29C73.00 18.48 70.15 18.78 67.37 19.16C64.59 19.54 61.83 20.02 59.17 20.59C56.51 21.16 53.89 21.82 51.4 22.56C48.91 23.30 46.48 24.13 44.2 25.03C41.92 25.93 39.73 26.91 37.69 27.96C35.65 29.01 33.73 30.13 31.98 31.3C30.23 32.47 28.61 33.72 27.17 35.0C25.73 36.28 24.44 37.62 23.34 38.99C22.24 40.36 21.30 41.77 20.56 43.2C19.81 44.63 19.25 46.09 18.87 47.56C18.49 49.03 18.06 49.83 18.3 52.0C18.54 54.17 18.62 57.78 20.3 60.6C21.98 63.42 24.73 66.17 28.4 68.9C32.07 71.63 36.87 74.57 42.3 77C47.73 79.43 55.22 82.02 61 83.5C66.78 84.98 72.18 85.38 77 85.9C81.82 86.42 87.30 86.65 89.9 86.6C92.50 86.55 91.72 86.20 92.6 85.6C93.48 85.00 94.13 83.72 95.2 83C96.27 82.28 97.57 81.67 99 81.3C100.43 80.93 101.80 80.75 103.8 80.8C105.80 80.85 107.82 81.65 111 81.6C114.18 81.55 118.95 81.35 122.9 80.5C126.85 79.65 131.35 78.17 134.7 76.5C138.05 74.83 140.70 72.83 143 70.5C145.30 68.17 147.22 65.58 148.5 62.5C149.78 59.42 150.33 53.75 150.7 52Z" fill="#aaa7a3" stroke="#b5b2ad" stroke-width="0.8"/>
<linearGradient id="grim" x1="0" y1="0" x2="1" y2="0"><stop offset="0" stop-color="#cfccc7"/><stop offset="0.6" stop-color="#c8c5c0"/><stop offset="1" stop-color="#b5b2ad"/></linearGradient>
<path d="M20.3 60.6C19.97 59.17 18.54 54.17 18.3 52.0C18.06 49.83 18.49 49.03 18.87 47.56C19.25 46.09 19.81 44.63 20.56 43.2C21.30 41.77 22.24 40.36 23.34 38.99C24.44 37.62 25.73 36.28 27.17 35.0C28.61 33.72 30.23 32.47 31.98 31.3C33.73 30.13 35.65 29.01 37.69 27.96C39.73 26.91 41.92 25.93 44.2 25.03C46.48 24.13 48.91 23.30 51.4 22.56C53.89 21.82 56.51 21.16 59.17 20.59C61.83 20.02 64.59 19.54 67.37 19.16C70.15 18.78 73.00 18.48 75.86 18.29C78.72 18.10 81.62 18.00 84.5 18.0C87.38 18.00 90.28 18.10 93.14 18.29C96.00 18.48 98.85 18.78 101.63 19.16C104.41 19.54 107.17 20.02 109.83 20.59C112.49 21.16 115.10 21.82 117.6 22.56C120.09 23.30 122.52 24.13 124.8 25.03C127.08 25.93 129.27 26.91 131.31 27.96C133.35 29.01 135.27 30.13 137.02 31.3C138.77 32.47 140.39 33.72 141.83 35.0C143.27 36.28 144.56 37.62 145.66 38.99C146.76 40.36 147.69 41.77 148.44 43.2C149.19 44.63 149.75 46.09 150.13 47.56C150.51 49.03 150.60 51.26 150.7 52.0" fill="none" stroke="url(#grim)" stroke-width="1.5"/>
</g>
</svg>
<text x="143.2" y="21.3" text-anchor="middle" class="T">CLP</text>
<text x="401.1" y="21.6" text-anchor="middle" class="T">Rough surface</text>
<text x="662" y="21.6" text-anchor="middle" class="T">Rough surface + Notch</text>
<rect x="81.8" y="152.5" width="27.9" height="2.1" fill="#000"/>
<text x="125.1" y="158.2" class="sb">500 nm</text>
<rect x="338" y="152.5" width="18" height="2.1" fill="#000"/>
<text x="366" y="158.2" class="sb">500 nm</text>
<rect x="595.5" y="152.5" width="34" height="2.1" fill="#000"/>
<text x="640.5" y="158.2" class="sb">500 nm</text>
<text x="0.1" y="14.8" class="L">a</text>
<text x="259.6" y="14.4" class="L">d</text>
<text x="517" y="13.4" class="L">g</text>
<text x="-1.3" y="204.3" class="L">b</text>
<text x="259.2" y="203.6" class="L">e</text>
<text x="516.2" y="204.2" class="L">h</text>
<text x="-0.2" y="528" class="L">c</text>
<text x="259.6" y="528.6" class="L">f</text>
<text x="516.2" y="528.8" class="L">i</text>
<path d="M59.60 203.80H229.40V439.10" fill="none" stroke="#8a8a8a" stroke-width="1.1"/>
<path d="M59.60 203.30V439.10H229.90" fill="none" stroke="#1a1a1a" stroke-width="1.5"/>
<line x1="59.6" y1="203.80" x2="64.6" y2="203.80" stroke="#1a1a1a" stroke-width="1.2"/>
<line x1="59.6" y1="269.20" x2="64.6" y2="269.20" stroke="#1a1a1a" stroke-width="1.2"/>
<line x1="59.6" y1="334.60" x2="64.6" y2="334.60" stroke="#1a1a1a" stroke-width="1.2"/>
<line x1="59.6" y1="400.00" x2="64.6" y2="400.00" stroke="#1a1a1a" stroke-width="1.2"/>
<line x1="59.6" y1="249.51" x2="62.6" y2="249.51" stroke="#1a1a1a" stroke-width="1"/>
<line x1="59.6" y1="238.00" x2="62.6" y2="238.00" stroke="#1a1a1a" stroke-width="1"/>
<line x1="59.6" y1="229.83" x2="62.6" y2="229.83" stroke="#1a1a1a" stroke-width="1"/>
<line x1="59.6" y1="223.49" x2="62.6" y2="223.49" stroke="#1a1a1a" stroke-width="1"/>
<line x1="59.6" y1="218.31" x2="62.6" y2="218.31" stroke="#1a1a1a" stroke-width="1"/>
<line x1="59.6" y1="213.93" x2="62.6" y2="213.93" stroke="#1a1a1a" stroke-width="1"/>
<line x1="59.6" y1="210.14" x2="62.6" y2="210.14" stroke="#1a1a1a" stroke-width="1"/>
<line x1="59.6" y1="206.79" x2="62.6" y2="206.79" stroke="#1a1a1a" stroke-width="1"/>
<line x1="59.6" y1="314.91" x2="62.6" y2="314.91" stroke="#1a1a1a" stroke-width="1"/>
<line x1="59.6" y1="303.40" x2="62.6" y2="303.40" stroke="#1a1a1a" stroke-width="1"/>
<line x1="59.6" y1="295.23" x2="62.6" y2="295.23" stroke="#1a1a1a" stroke-width="1"/>
<line x1="59.6" y1="288.89" x2="62.6" y2="288.89" stroke="#1a1a1a" stroke-width="1"/>
<line x1="59.6" y1="283.71" x2="62.6" y2="283.71" stroke="#1a1a1a" stroke-width="1"/>
<line x1="59.6" y1="279.33" x2="62.6" y2="279.33" stroke="#1a1a1a" stroke-width="1"/>
<line x1="59.6" y1="275.54" x2="62.6" y2="275.54" stroke="#1a1a1a" stroke-width="1"/>
<line x1="59.6" y1="272.19" x2="62.6" y2="272.19" stroke="#1a1a1a" stroke-width="1"/>
<line x1="59.6" y1="380.31" x2="62.6" y2="380.31" stroke="#1a1a1a" stroke-width="1"/>
<line x1="59.6" y1="368.80" x2="62.6" y2="368.80" stroke="#1a1a1a" stroke-width="1"/>
<line x1="59.6" y1="360.63" x2="62.6" y2="360.63" stroke="#1a1a1a" stroke-width="1"/>
<line x1="59.6" y1="354.29" x2="62.6" y2="354.29" stroke="#1a1a1a" stroke-width="1"/>
<line x1="59.6" y1="349.11" x2="62.6" y2="349.11" stroke="#1a1a1a" stroke-width="1"/>
<line x1="59.6" y1="344.73" x2="62.6" y2="344.73" stroke="#1a1a1a" stroke-width="1"/>
<line x1="59.6" y1="340.94" x2="62.6" y2="340.94" stroke="#1a1a1a" stroke-width="1"/>
<line x1="59.6" y1="337.59" x2="62.6" y2="337.59" stroke="#1a1a1a" stroke-width="1"/>
<line x1="59.6" y1="434.20" x2="62.6" y2="434.20" stroke="#1a1a1a" stroke-width="1"/>
<line x1="59.6" y1="426.03" x2="62.6" y2="426.03" stroke="#1a1a1a" stroke-width="1"/>
<line x1="59.6" y1="419.69" x2="62.6" y2="419.69" stroke="#1a1a1a" stroke-width="1"/>
<line x1="59.6" y1="414.51" x2="62.6" y2="414.51" stroke="#1a1a1a" stroke-width="1"/>
<line x1="59.6" y1="410.13" x2="62.6" y2="410.13" stroke="#1a1a1a" stroke-width="1"/>
<line x1="59.6" y1="406.34" x2="62.6" y2="406.34" stroke="#1a1a1a" stroke-width="1"/>
<line x1="59.6" y1="402.99" x2="62.6" y2="402.99" stroke="#1a1a1a" stroke-width="1"/>
<text x="52.4" y="208.5" text-anchor="end" class="t">1</text>
<text x="41.4" y="273.8" text-anchor="end" class="t">10</text>
<text x="41.6" y="267.7" class="s">−1</text>
<text x="41.4" y="339.2" text-anchor="end" class="t">10</text>
<text x="41.6" y="333.1" class="s">−2</text>
<text x="41.4" y="404.6" text-anchor="end" class="t">10</text>
<text x="41.6" y="398.5" class="s">−3</text>
<line x1="68.1" y1="439.1" x2="68.1" y2="434.6" stroke="#1a1a1a" stroke-width="1.3"/>
<text x="68.1" y="456.3" text-anchor="middle" class="t">0</text>
<line x1="144.5" y1="439.1" x2="144.5" y2="434.6" stroke="#1a1a1a" stroke-width="1.3"/>
<text x="144.5" y="456.3" text-anchor="middle" class="t">45</text>
<line x1="220.7" y1="439.1" x2="220.7" y2="434.6" stroke="#1a1a1a" stroke-width="1.3"/>
<text x="220.7" y="456.3" text-anchor="middle" class="t">90</text>
<text x="144.1" y="478.3" text-anchor="middle" class="X">Disk angle <tspan font-style="italic">α</tspan> (deg)</text>
<text transform="translate(10.5 321.5) rotate(-90)" text-anchor="middle" class="T">Slope efficiency (a. u.)</text>
<path d="M318.60 203.80H488.40V439.10" fill="none" stroke="#8a8a8a" stroke-width="1.1"/>
<path d="M318.60 203.30V439.10H488.90" fill="none" stroke="#1a1a1a" stroke-width="1.5"/>
<line x1="318.6" y1="203.80" x2="323.6" y2="203.80" stroke="#1a1a1a" stroke-width="1.2"/>
<line x1="318.6" y1="269.20" x2="323.6" y2="269.20" stroke="#1a1a1a" stroke-width="1.2"/>
<line x1="318.6" y1="334.60" x2="323.6" y2="334.60" stroke="#1a1a1a" stroke-width="1.2"/>
<line x1="318.6" y1="400.00" x2="323.6" y2="400.00" stroke="#1a1a1a" stroke-width="1.2"/>
<line x1="318.6" y1="249.51" x2="321.6" y2="249.51" stroke="#1a1a1a" stroke-width="1"/>
<line x1="318.6" y1="238.00" x2="321.6" y2="238.00" stroke="#1a1a1a" stroke-width="1"/>
<line x1="318.6" y1="229.83" x2="321.6" y2="229.83" stroke="#1a1a1a" stroke-width="1"/>
<line x1="318.6" y1="223.49" x2="321.6" y2="223.49" stroke="#1a1a1a" stroke-width="1"/>
<line x1="318.6" y1="218.31" x2="321.6" y2="218.31" stroke="#1a1a1a" stroke-width="1"/>
<line x1="318.6" y1="213.93" x2="321.6" y2="213.93" stroke="#1a1a1a" stroke-width="1"/>
<line x1="318.6" y1="210.14" x2="321.6" y2="210.14" stroke="#1a1a1a" stroke-width="1"/>
<line x1="318.6" y1="206.79" x2="321.6" y2="206.79" stroke="#1a1a1a" stroke-width="1"/>
<line x1="318.6" y1="314.91" x2="321.6" y2="314.91" stroke="#1a1a1a" stroke-width="1"/>
<line x1="318.6" y1="303.40" x2="321.6" y2="303.40" stroke="#1a1a1a" stroke-width="1"/>
<line x1="318.6" y1="295.23" x2="321.6" y2="295.23" stroke="#1a1a1a" stroke-width="1"/>
<line x1="318.6" y1="288.89" x2="321.6" y2="288.89" stroke="#1a1a1a" stroke-width="1"/>
<line x1="318.6" y1="283.71" x2="321.6" y2="283.71" stroke="#1a1a1a" stroke-width="1"/>
<line x1="318.6" y1="279.33" x2="321.6" y2="279.33" stroke="#1a1a1a" stroke-width="1"/>
<line x1="318.6" y1="275.54" x2="321.6" y2="275.54" stroke="#1a1a1a" stroke-width="1"/>
<line x1="318.6" y1="272.19" x2="321.6" y2="272.19" stroke="#1a1a1a" stroke-width="1"/>
<line x1="318.6" y1="380.31" x2="321.6" y2="380.31" stroke="#1a1a1a" stroke-width="1"/>
<line x1="318.6" y1="368.80" x2="321.6" y2="368.80" stroke="#1a1a1a" stroke-width="1"/>
<line x1="318.6" y1="360.63" x2="321.6" y2="360.63" stroke="#1a1a1a" stroke-width="1"/>
<line x1="318.6" y1="354.29" x2="321.6" y2="354.29" stroke="#1a1a1a" stroke-width="1"/>
<line x1="318.6" y1="349.11" x2="321.6" y2="349.11" stroke="#1a1a1a" stroke-width="1"/>
<line x1="318.6" y1="344.73" x2="321.6" y2="344.73" stroke="#1a1a1a" stroke-width="1"/>
<line x1="318.6" y1="340.94" x2="321.6" y2="340.94" stroke="#1a1a1a" stroke-width="1"/>
<line x1="318.6" y1="337.59" x2="321.6" y2="337.59" stroke="#1a1a1a" stroke-width="1"/>
<line x1="318.6" y1="434.20" x2="321.6" y2="434.20" stroke="#1a1a1a" stroke-width="1"/>
<line x1="318.6" y1="426.03" x2="321.6" y2="426.03" stroke="#1a1a1a" stroke-width="1"/>
<line x1="318.6" y1="419.69" x2="321.6" y2="419.69" stroke="#1a1a1a" stroke-width="1"/>
<line x1="318.6" y1="414.51" x2="321.6" y2="414.51" stroke="#1a1a1a" stroke-width="1"/>
<line x1="318.6" y1="410.13" x2="321.6" y2="410.13" stroke="#1a1a1a" stroke-width="1"/>
<line x1="318.6" y1="406.34" x2="321.6" y2="406.34" stroke="#1a1a1a" stroke-width="1"/>
<line x1="318.6" y1="402.99" x2="321.6" y2="402.99" stroke="#1a1a1a" stroke-width="1"/>
<text x="311.4" y="208.5" text-anchor="end" class="t">1</text>
<text x="300.4" y="273.8" text-anchor="end" class="t">10</text>
<text x="300.6" y="267.7" class="s">−1</text>
<text x="300.4" y="339.2" text-anchor="end" class="t">10</text>
<text x="300.6" y="333.1" class="s">−2</text>
<text x="300.4" y="404.6" text-anchor="end" class="t">10</text>
<text x="300.6" y="398.5" class="s">−3</text>
<line x1="328.4" y1="439.1" x2="328.4" y2="434.6" stroke="#1a1a1a" stroke-width="1.3"/>
<text x="328.4" y="456.3" text-anchor="middle" class="t">0</text>
<line x1="404.3" y1="439.1" x2="404.3" y2="434.6" stroke="#1a1a1a" stroke-width="1.3"/>
<text x="404.3" y="456.3" text-anchor="middle" class="t">45</text>
<line x1="480.5" y1="439.1" x2="480.5" y2="434.6" stroke="#1a1a1a" stroke-width="1.3"/>
<text x="480.5" y="456.3" text-anchor="middle" class="t">90</text>
<text x="403.1" y="478.3" text-anchor="middle" class="X">Disk angle <tspan font-style="italic">α</tspan> (deg)</text>
<text transform="translate(269.5 321.5) rotate(-90)" text-anchor="middle" class="T">Slope efficiency (a. u.)</text>
<path d="M577.60 203.80H747.40V439.10" fill="none" stroke="#8a8a8a" stroke-width="1.1"/>
<path d="M577.60 203.30V439.10H747.90" fill="none" stroke="#1a1a1a" stroke-width="1.5"/>
<line x1="577.6" y1="203.80" x2="582.6" y2="203.80" stroke="#1a1a1a" stroke-width="1.2"/>
<line x1="577.6" y1="269.20" x2="582.6" y2="269.20" stroke="#1a1a1a" stroke-width="1.2"/>
<line x1="577.6" y1="334.60" x2="582.6" y2="334.60" stroke="#1a1a1a" stroke-width="1.2"/>
<line x1="577.6" y1="400.00" x2="582.6" y2="400.00" stroke="#1a1a1a" stroke-width="1.2"/>
<line x1="577.6" y1="249.51" x2="580.6" y2="249.51" stroke="#1a1a1a" stroke-width="1"/>
<line x1="577.6" y1="238.00" x2="580.6" y2="238.00" stroke="#1a1a1a" stroke-width="1"/>
<line x1="577.6" y1="229.83" x2="580.6" y2="229.83" stroke="#1a1a1a" stroke-width="1"/>
<line x1="577.6" y1="223.49" x2="580.6" y2="223.49" stroke="#1a1a1a" stroke-width="1"/>
<line x1="577.6" y1="218.31" x2="580.6" y2="218.31" stroke="#1a1a1a" stroke-width="1"/>
<line x1="577.6" y1="213.93" x2="580.6" y2="213.93" stroke="#1a1a1a" stroke-width="1"/>
<line x1="577.6" y1="210.14" x2="580.6" y2="210.14" stroke="#1a1a1a" stroke-width="1"/>
<line x1="577.6" y1="206.79" x2="580.6" y2="206.79" stroke="#1a1a1a" stroke-width="1"/>
<line x1="577.6" y1="314.91" x2="580.6" y2="314.91" stroke="#1a1a1a" stroke-width="1"/>
<line x1="577.6" y1="303.40" x2="580.6" y2="303.40" stroke="#1a1a1a" stroke-width="1"/>
<line x1="577.6" y1="295.23" x2="580.6" y2="295.23" stroke="#1a1a1a" stroke-width="1"/>
<line x1="577.6" y1="288.89" x2="580.6" y2="288.89" stroke="#1a1a1a" stroke-width="1"/>
<line x1="577.6" y1="283.71" x2="580.6" y2="283.71" stroke="#1a1a1a" stroke-width="1"/>
<line x1="577.6" y1="279.33" x2="580.6" y2="279.33" stroke="#1a1a1a" stroke-width="1"/>
<line x1="577.6" y1="275.54" x2="580.6" y2="275.54" stroke="#1a1a1a" stroke-width="1"/>
<line x1="577.6" y1="272.19" x2="580.6" y2="272.19" stroke="#1a1a1a" stroke-width="1"/>
<line x1="577.6" y1="380.31" x2="580.6" y2="380.31" stroke="#1a1a1a" stroke-width="1"/>
<line x1="577.6" y1="368.80" x2="580.6" y2="368.80" stroke="#1a1a1a" stroke-width="1"/>
<line x1="577.6" y1="360.63" x2="580.6" y2="360.63" stroke="#1a1a1a" stroke-width="1"/>
<line x1="577.6" y1="354.29" x2="580.6" y2="354.29" stroke="#1a1a1a" stroke-width="1"/>
<line x1="577.6" y1="349.11" x2="580.6" y2="349.11" stroke="#1a1a1a" stroke-width="1"/>
<line x1="577.6" y1="344.73" x2="580.6" y2="344.73" stroke="#1a1a1a" stroke-width="1"/>
<line x1="577.6" y1="340.94" x2="580.6" y2="340.94" stroke="#1a1a1a" stroke-width="1"/>
<line x1="577.6" y1="337.59" x2="580.6" y2="337.59" stroke="#1a1a1a" stroke-width="1"/>
<line x1="577.6" y1="434.20" x2="580.6" y2="434.20" stroke="#1a1a1a" stroke-width="1"/>
<line x1="577.6" y1="426.03" x2="580.6" y2="426.03" stroke="#1a1a1a" stroke-width="1"/>
<line x1="577.6" y1="419.69" x2="580.6" y2="419.69" stroke="#1a1a1a" stroke-width="1"/>
<line x1="577.6" y1="414.51" x2="580.6" y2="414.51" stroke="#1a1a1a" stroke-width="1"/>
<line x1="577.6" y1="410.13" x2="580.6" y2="410.13" stroke="#1a1a1a" stroke-width="1"/>
<line x1="577.6" y1="406.34" x2="580.6" y2="406.34" stroke="#1a1a1a" stroke-width="1"/>
<line x1="577.6" y1="402.99" x2="580.6" y2="402.99" stroke="#1a1a1a" stroke-width="1"/>
<text x="570.4" y="208.5" text-anchor="end" class="t">1</text>
<text x="559.4" y="273.8" text-anchor="end" class="t">10</text>
<text x="559.6" y="267.7" class="s">−1</text>
<text x="559.4" y="339.2" text-anchor="end" class="t">10</text>
<text x="559.6" y="333.1" class="s">−2</text>
<text x="559.4" y="404.6" text-anchor="end" class="t">10</text>
<text x="559.6" y="398.5" class="s">−3</text>
<line x1="586.2" y1="439.1" x2="586.2" y2="434.6" stroke="#1a1a1a" stroke-width="1.3"/>
<text x="586.2" y="456.3" text-anchor="middle" class="t">0</text>
<line x1="662.3" y1="439.1" x2="662.3" y2="434.6" stroke="#1a1a1a" stroke-width="1.3"/>
<text x="662.3" y="456.3" text-anchor="middle" class="t">45</text>
<line x1="738.5" y1="439.1" x2="738.5" y2="434.6" stroke="#1a1a1a" stroke-width="1.3"/>
<text x="738.5" y="456.3" text-anchor="middle" class="t">90</text>
<text x="662.1" y="478.3" text-anchor="middle" class="X">Disk angle <tspan font-style="italic">α</tspan> (deg)</text>
<text transform="translate(528.5 321.5) rotate(-90)" text-anchor="middle" class="T">Slope efficiency (a. u.)</text>
<path d="M59.60 524.40H229.40V630.30" fill="none" stroke="#8a8a8a" stroke-width="1.1"/>
<path d="M59.60 523.90V630.30H229.90" fill="none" stroke="#1a1a1a" stroke-width="1.5"/>
<text x="52.7" y="634.8" text-anchor="end" class="t">0</text>
<line x1="59.6" y1="599.95" x2="64.1" y2="599.95" stroke="#1a1a1a" stroke-width="1.2"/>
<text x="52.7" y="604.8" text-anchor="end" class="t">10</text>
<line x1="59.6" y1="570.00" x2="64.1" y2="570.00" stroke="#1a1a1a" stroke-width="1.2"/>
<text x="52.7" y="574.9" text-anchor="end" class="t">20</text>
<line x1="59.6" y1="540.05" x2="64.1" y2="540.05" stroke="#1a1a1a" stroke-width="1.2"/>
<text x="52.7" y="544.9" text-anchor="end" class="t">30</text>
<line x1="66.9" y1="630.3" x2="66.9" y2="625.8" stroke="#1a1a1a" stroke-width="1.3"/>
<text x="66.9" y="647.8" text-anchor="middle" class="t">0</text>
<line x1="143.8" y1="630.3" x2="143.8" y2="625.8" stroke="#1a1a1a" stroke-width="1.3"/>
<text x="143.8" y="647.8" text-anchor="middle" class="t">45</text>
<line x1="220.9" y1="630.3" x2="220.9" y2="625.8" stroke="#1a1a1a" stroke-width="1.3"/>
<text x="220.9" y="647.8" text-anchor="middle" class="t">90</text>
<text x="144.1" y="670.5" text-anchor="middle" class="X">Disk angle <tspan font-style="italic">α</tspan> (deg)</text>
<text transform="translate(23.4 577.3) rotate(-90)" text-anchor="middle" class="T">Threshold (pJ)</text>
<path d="M318.60 524.40H488.40V630.30" fill="none" stroke="#8a8a8a" stroke-width="1.1"/>
<path d="M318.60 523.90V630.30H488.90" fill="none" stroke="#1a1a1a" stroke-width="1.5"/>
<text x="311.7" y="634.8" text-anchor="end" class="t">0</text>
<line x1="318.6" y1="599.95" x2="323.1" y2="599.95" stroke="#1a1a1a" stroke-width="1.2"/>
<text x="311.7" y="604.8" text-anchor="end" class="t">10</text>
<line x1="318.6" y1="570.00" x2="323.1" y2="570.00" stroke="#1a1a1a" stroke-width="1.2"/>
<text x="311.7" y="574.9" text-anchor="end" class="t">20</text>
<line x1="318.6" y1="540.05" x2="323.1" y2="540.05" stroke="#1a1a1a" stroke-width="1.2"/>
<text x="311.7" y="544.9" text-anchor="end" class="t">30</text>
<line x1="326.4" y1="630.3" x2="326.4" y2="625.8" stroke="#1a1a1a" stroke-width="1.3"/>
<text x="326.4" y="647.8" text-anchor="middle" class="t">0</text>
<line x1="403.4" y1="630.3" x2="403.4" y2="625.8" stroke="#1a1a1a" stroke-width="1.3"/>
<text x="403.4" y="647.8" text-anchor="middle" class="t">45</text>
<line x1="480.2" y1="630.3" x2="480.2" y2="625.8" stroke="#1a1a1a" stroke-width="1.3"/>
<text x="480.2" y="647.8" text-anchor="middle" class="t">90</text>
<text x="403.1" y="670.5" text-anchor="middle" class="X">Disk angle <tspan font-style="italic">α</tspan> (deg)</text>
<text transform="translate(282.4 577.3) rotate(-90)" text-anchor="middle" class="T">Threshold (pJ)</text>
<path d="M577.60 524.40H747.40V630.30" fill="none" stroke="#8a8a8a" stroke-width="1.1"/>
<path d="M577.60 523.90V630.30H747.90" fill="none" stroke="#1a1a1a" stroke-width="1.5"/>
<text x="570.7" y="634.8" text-anchor="end" class="t">0</text>
<line x1="577.6" y1="599.95" x2="582.1" y2="599.95" stroke="#1a1a1a" stroke-width="1.2"/>
<text x="570.7" y="604.8" text-anchor="end" class="t">10</text>
<line x1="577.6" y1="570.00" x2="582.1" y2="570.00" stroke="#1a1a1a" stroke-width="1.2"/>
<text x="570.7" y="574.9" text-anchor="end" class="t">20</text>
<line x1="577.6" y1="540.05" x2="582.1" y2="540.05" stroke="#1a1a1a" stroke-width="1.2"/>
<text x="570.7" y="544.9" text-anchor="end" class="t">30</text>
<line x1="586.3" y1="630.3" x2="586.3" y2="625.8" stroke="#1a1a1a" stroke-width="1.3"/>
<text x="586.3" y="647.8" text-anchor="middle" class="t">0</text>
<line x1="662.3" y1="630.3" x2="662.3" y2="625.8" stroke="#1a1a1a" stroke-width="1.3"/>
<text x="662.3" y="647.8" text-anchor="middle" class="t">45</text>
<line x1="739.0" y1="630.3" x2="739.0" y2="625.8" stroke="#1a1a1a" stroke-width="1.3"/>
<text x="739.0" y="647.8" text-anchor="middle" class="t">90</text>
<text x="662.1" y="670.5" text-anchor="middle" class="X">Disk angle <tspan font-style="italic">α</tspan> (deg)</text>
<text transform="translate(541.4 577.3) rotate(-90)" text-anchor="middle" class="T">Threshold (pJ)</text>
<line x1="117.3" y1="435.5" x2="141" y2="340" stroke="#111" stroke-width="1.6" stroke-dasharray="5.2 3.2"/>
<circle cx="68.1" cy="389.2" r="4.4" fill="#f1f1f1" stroke="#1a1a1a" stroke-width="1.1"/>
<circle cx="88.2" cy="374.7" r="4.4" fill="#f1f1f1" stroke="#1a1a1a" stroke-width="1.1"/>
<circle cx="98.6" cy="405.8" r="4.4" fill="#f1f1f1" stroke="#1a1a1a" stroke-width="1.1"/>
<circle cx="98.2" cy="419.8" r="4.4" fill="#f1f1f1" stroke="#1a1a1a" stroke-width="1.1"/>
<circle cx="105.7" cy="420.9" r="4.4" fill="#f1f1f1" stroke="#1a1a1a" stroke-width="1.1"/>
<circle cx="113" cy="391.6" r="4.4" fill="#f1f1f1" stroke="#1a1a1a" stroke-width="1.1"/>
<circle cx="120.4" cy="423.2" r="4.4" fill="#f1f1f1" stroke="#1a1a1a" stroke-width="1.1"/>
<circle cx="113" cy="294.5" r="4.4" fill="#f1f1f1" stroke="#1a1a1a" stroke-width="1.1"/>
<circle cx="115.1" cy="368" r="4.4" fill="#f1f1f1" stroke="#1a1a1a" stroke-width="1.1"/>
<circle cx="117.1" cy="361.3" r="4.4" fill="#f1f1f1" stroke="#1a1a1a" stroke-width="1.1"/>
<circle cx="119.2" cy="354.5" r="4.4" fill="#f1f1f1" stroke="#1a1a1a" stroke-width="1.1"/>
<circle cx="118.6" cy="346.4" r="4.4" fill="#f1f1f1" stroke="#1a1a1a" stroke-width="1.1"/>
<circle cx="124.9" cy="353.5" r="4.4" fill="#f1f1f1" stroke="#1a1a1a" stroke-width="1.1"/>
<circle cx="124.4" cy="356.6" r="4.4" fill="#f1f1f1" stroke="#1a1a1a" stroke-width="1.1"/>
<circle cx="130.1" cy="357.1" r="4.4" fill="#f1f1f1" stroke="#1a1a1a" stroke-width="1.1"/>
<circle cx="128.6" cy="366" r="4.4" fill="#f1f1f1" stroke="#1a1a1a" stroke-width="1.1"/>
<circle cx="129.3" cy="344.4" r="4.4" fill="#f1f1f1" stroke="#1a1a1a" stroke-width="1.1"/>
<circle cx="123.4" cy="321.3" r="4.4" fill="#f1f1f1" stroke="#1a1a1a" stroke-width="1.1"/>
<circle cx="125.4" cy="333.8" r="4.4" fill="#f1f1f1" stroke="#1a1a1a" stroke-width="1.1"/>
<circle cx="143.6" cy="316.9" r="4.4" fill="#f1f1f1" stroke="#1a1a1a" stroke-width="1.1"/>
<circle cx="150.4" cy="316.1" r="4.4" fill="#f1f1f1" stroke="#1a1a1a" stroke-width="1.1"/>
<circle cx="143.6" cy="325.7" r="4.4" fill="#f1f1f1" stroke="#1a1a1a" stroke-width="1.1"/>
<circle cx="144.1" cy="337.1" r="4.4" fill="#f1f1f1" stroke="#1a1a1a" stroke-width="1.1"/>
<circle cx="147.3" cy="373.4" r="4.4" fill="#f1f1f1" stroke="#1a1a1a" stroke-width="1.1"/>
<circle cx="145.2" cy="298.2" r="4.4" fill="#f1f1f1" stroke="#1a1a1a" stroke-width="1.1"/>
<circle cx="146.2" cy="302" r="4.4" fill="#f1f1f1" stroke="#1a1a1a" stroke-width="1.1"/>
<circle cx="154.5" cy="300.8" r="4.4" fill="#f1f1f1" stroke="#1a1a1a" stroke-width="1.1"/>
<circle cx="159.2" cy="302.6" r="4.4" fill="#f1f1f1" stroke="#1a1a1a" stroke-width="1.1"/>
<circle cx="151.9" cy="288.3" r="4.4" fill="#f1f1f1" stroke="#1a1a1a" stroke-width="1.1"/>
<circle cx="152.3" cy="268.8" r="4.4" fill="#f1f1f1" stroke="#1a1a1a" stroke-width="1.1"/>
<circle cx="157.3" cy="341.8" r="4.4" fill="#f1f1f1" stroke="#1a1a1a" stroke-width="1.1"/>
<circle cx="167.2" cy="340.6" r="4.4" fill="#f1f1f1" stroke="#1a1a1a" stroke-width="1.1"/>
<circle cx="171.9" cy="334.5" r="4.4" fill="#f1f1f1" stroke="#1a1a1a" stroke-width="1.1"/>
<circle cx="197.2" cy="349.4" r="4.4" fill="#f1f1f1" stroke="#1a1a1a" stroke-width="1.1"/>
<circle cx="167.4" cy="291" r="4.4" fill="#f1f1f1" stroke="#1a1a1a" stroke-width="1.1"/>
<circle cx="193.8" cy="291.3" r="4.4" fill="#f1f1f1" stroke="#1a1a1a" stroke-width="1.1"/>
<circle cx="164.7" cy="235.4" r="4.4" fill="#f1f1f1" stroke="#1a1a1a" stroke-width="1.1"/>
<circle cx="167.4" cy="270.5" r="4.4" fill="#f1f1f1" stroke="#1a1a1a" stroke-width="1.1"/>
<circle cx="174" cy="279" r="4.4" fill="#f1f1f1" stroke="#1a1a1a" stroke-width="1.1"/>
<circle cx="180.2" cy="268.1" r="4.4" fill="#f1f1f1" stroke="#1a1a1a" stroke-width="1.1"/>
<circle cx="195.6" cy="271" r="4.4" fill="#f1f1f1" stroke="#1a1a1a" stroke-width="1.1"/>
<circle cx="172.6" cy="263.8" r="4.4" fill="#f1f1f1" stroke="#1a1a1a" stroke-width="1.1"/>
<circle cx="195.8" cy="262.7" r="4.4" fill="#f1f1f1" stroke="#1a1a1a" stroke-width="1.1"/>
<circle cx="176.2" cy="253.4" r="4.4" fill="#f1f1f1" stroke="#1a1a1a" stroke-width="1.1"/>
<circle cx="182.9" cy="256.5" r="4.4" fill="#f1f1f1" stroke="#1a1a1a" stroke-width="1.1"/>
<circle cx="165.4" cy="258.8" r="4.4" fill="#f1f1f1" stroke="#1a1a1a" stroke-width="1.1"/>
<circle cx="189.1" cy="254.3" r="4.4" fill="#f1f1f1" stroke="#1a1a1a" stroke-width="1.1"/>
<circle cx="198.5" cy="256.5" r="4.4" fill="#f1f1f1" stroke="#1a1a1a" stroke-width="1.1"/>
<circle cx="205.6" cy="258.3" r="4.4" fill="#f1f1f1" stroke="#1a1a1a" stroke-width="1.1"/>
<circle cx="204.3" cy="248.3" r="4.4" fill="#f1f1f1" stroke="#1a1a1a" stroke-width="1.1"/>
<circle cx="201.6" cy="240.9" r="4.4" fill="#f1f1f1" stroke="#1a1a1a" stroke-width="1.1"/>
<circle cx="194" cy="243.6" r="4.4" fill="#f1f1f1" stroke="#1a1a1a" stroke-width="1.1"/>
<circle cx="191.4" cy="243.1" r="4.4" fill="#f1f1f1" stroke="#1a1a1a" stroke-width="1.1"/>
<circle cx="181.6" cy="245.4" r="4.4" fill="#f1f1f1" stroke="#1a1a1a" stroke-width="1.1"/>
<circle cx="182.5" cy="242.3" r="4.4" fill="#f1f1f1" stroke="#1a1a1a" stroke-width="1.1"/>
<circle cx="184.2" cy="239.6" r="4.4" fill="#f1f1f1" stroke="#1a1a1a" stroke-width="1.1"/>
<circle cx="193.6" cy="237.4" r="4.4" fill="#f1f1f1" stroke="#1a1a1a" stroke-width="1.1"/>
<circle cx="187.8" cy="234.7" r="4.4" fill="#f1f1f1" stroke="#1a1a1a" stroke-width="1.1"/>
<circle cx="189.8" cy="231.6" r="4.4" fill="#f1f1f1" stroke="#1a1a1a" stroke-width="1.1"/>
<circle cx="203.1" cy="232.5" r="4.4" fill="#f1f1f1" stroke="#1a1a1a" stroke-width="1.1"/>
<circle cx="209.2" cy="234.2" r="4.4" fill="#f1f1f1" stroke="#1a1a1a" stroke-width="1.1"/>
<circle cx="210.5" cy="238.7" r="4.4" fill="#f1f1f1" stroke="#1a1a1a" stroke-width="1.1"/>
<circle cx="212" cy="236.5" r="4.4" fill="#f1f1f1" stroke="#1a1a1a" stroke-width="1.1"/>
<circle cx="221.2" cy="232.5" r="4.4" fill="#f1f1f1" stroke="#1a1a1a" stroke-width="1.1"/>
<path d="M68 389.2C71.67 389.42 83.20 390.15 90 390.5C96.80 390.85 104.88 391.38 108.8 391.3C112.72 391.22 111.93 390.63 113.5 390.0C115.07 389.37 116.78 388.75 118.2 387.5C119.62 386.25 120.78 384.25 122 382.5C123.22 380.75 124.33 379.08 125.5 377C126.67 374.92 128.00 372.25 129 370C130.00 367.75 130.45 366.08 131.5 363.5C132.55 360.92 133.97 358.25 135.3 354.5C136.63 350.75 137.60 346.50 139.5 341C141.40 335.50 144.45 327.50 146.7 321.5C148.95 315.50 150.78 310.08 153 305C155.22 299.92 157.75 295.17 160 291C162.25 286.83 164.75 283.08 166.5 280C168.25 276.92 168.43 275.97 170.5 272.5C172.57 269.03 176.02 263.20 178.9 259.2C181.78 255.20 184.83 251.77 187.8 248.5C190.77 245.23 193.73 241.90 196.7 239.6C199.67 237.30 202.63 235.97 205.6 234.7C208.57 233.43 211.90 232.52 214.5 232C217.10 231.48 220.08 231.67 221.2 231.6" fill="none" stroke="#0fa757" stroke-width="1.75" stroke-linecap="round"/>
<text x="167.4" y="425.7" class="g"><tspan font-style="italic">s</tspan> = 0.007</text>
<path d="M328.1 306.50L333.40 311.8L328.1 317.10L322.80 311.8Z" fill="#ececec" stroke="#222" stroke-width="1.05"/>
<path d="M337 301.40L342.30 306.7L337 312.00L331.70 306.7Z" fill="#ececec" stroke="#222" stroke-width="1.05"/>
<path d="M341.1 297.80L346.40 303.1L341.1 308.40L335.80 303.1Z" fill="#ececec" stroke="#222" stroke-width="1.05"/>
<path d="M347.7 294.30L353.00 299.6L347.7 304.90L342.40 299.6Z" fill="#ececec" stroke="#222" stroke-width="1.05"/>
<path d="M343.5 300.80L348.80 306.1L343.5 311.40L338.20 306.1Z" fill="#ececec" stroke="#222" stroke-width="1.05"/>
<path d="M341.1 310.90L346.40 316.2L341.1 321.50L335.80 316.2Z" fill="#ececec" stroke="#222" stroke-width="1.05"/>
<path d="M347.7 305.60L353.00 310.9L347.7 316.20L342.40 310.9Z" fill="#ececec" stroke="#222" stroke-width="1.05"/>
<path d="M353.6 300.20L358.90 305.5L353.6 310.80L348.30 305.5Z" fill="#ececec" stroke="#222" stroke-width="1.05"/>
<path d="M359 296.70L364.30 302L359 307.30L353.70 302Z" fill="#ececec" stroke="#222" stroke-width="1.05"/>
<path d="M364.3 300.80L369.60 306.1L364.3 311.40L359.00 306.1Z" fill="#ececec" stroke="#222" stroke-width="1.05"/>
<path d="M360.1 309.10L365.40 314.4L360.1 319.70L354.80 314.4Z" fill="#ececec" stroke="#222" stroke-width="1.05"/>
<path d="M361.9 316.20L367.20 321.5L361.9 326.80L356.60 321.5Z" fill="#ececec" stroke="#222" stroke-width="1.05"/>
<path d="M342.9 329.90L348.20 335.2L342.9 340.50L337.60 335.2Z" fill="#ececec" stroke="#222" stroke-width="1.05"/>
<path d="M351.8 332.30L357.10 337.6L351.8 342.90L346.50 337.6Z" fill="#ececec" stroke="#222" stroke-width="1.05"/>
<path d="M350 324.60L355.30 329.9L350 335.20L344.70 329.9Z" fill="#ececec" stroke="#222" stroke-width="1.05"/>
<path d="M357.2 325.70L362.50 331L357.2 336.30L351.90 331Z" fill="#ececec" stroke="#222" stroke-width="1.05"/>
<path d="M359.5 330.50L364.80 335.8L359.5 341.10L354.20 335.8Z" fill="#ececec" stroke="#222" stroke-width="1.05"/>
<path d="M366.1 329.90L371.40 335.2L366.1 340.50L360.80 335.2Z" fill="#ececec" stroke="#222" stroke-width="1.05"/>
<path d="M376.2 318.60L381.50 323.9L376.2 329.20L370.90 323.9Z" fill="#ececec" stroke="#222" stroke-width="1.05"/>
<path d="M380.3 315.70L385.60 321L380.3 326.30L375.00 321Z" fill="#ececec" stroke="#222" stroke-width="1.05"/>
<path d="M386.2 311.50L391.50 316.8L386.2 322.10L380.90 316.8Z" fill="#ececec" stroke="#222" stroke-width="1.05"/>
<path d="M383.9 318.60L389.20 323.9L383.9 329.20L378.60 323.9Z" fill="#ececec" stroke="#222" stroke-width="1.05"/>
<path d="M392.8 318.00L398.10 323.3L392.8 328.60L387.50 323.3Z" fill="#ececec" stroke="#222" stroke-width="1.05"/>
<path d="M395.7 310.90L401.00 316.2L395.7 321.50L390.40 316.2Z" fill="#ececec" stroke="#222" stroke-width="1.05"/>
<path d="M382.1 318.70L387.40 324L382.1 329.30L376.80 324Z" fill="#ececec" stroke="#222" stroke-width="1.05"/>
<path d="M402.3 317.10L407.60 322.4L402.3 327.70L397.00 322.4Z" fill="#ececec" stroke="#222" stroke-width="1.05"/>
<path d="M393 318.70L398.30 324L393 329.30L387.70 324Z" fill="#ececec" stroke="#222" stroke-width="1.05"/>
<path d="M406.5 274.60L411.80 279.9L406.5 285.20L401.20 279.9Z" fill="#ececec" stroke="#222" stroke-width="1.05"/>
<path d="M413.2 273.50L418.50 278.8L413.2 284.10L407.90 278.8Z" fill="#ececec" stroke="#222" stroke-width="1.05"/>
<path d="M421.5 274.60L426.80 279.9L421.5 285.20L416.20 279.9Z" fill="#ececec" stroke="#222" stroke-width="1.05"/>
<path d="M428.9 267.00L434.20 272.3L428.9 277.60L423.60 272.3Z" fill="#ececec" stroke="#222" stroke-width="1.05"/>
<path d="M424.7 284.40L430.00 289.7L424.7 295.00L419.40 289.7Z" fill="#ececec" stroke="#222" stroke-width="1.05"/>
<path d="M437.1 286.00L442.40 291.3L437.1 296.60L431.80 291.3Z" fill="#ececec" stroke="#222" stroke-width="1.05"/>
<path d="M432.4 290.70L437.70 296L432.4 301.30L427.10 296Z" fill="#ececec" stroke="#222" stroke-width="1.05"/>
<path d="M446.5 276.10L451.80 281.4L446.5 286.70L441.20 281.4Z" fill="#ececec" stroke="#222" stroke-width="1.05"/>
<path d="M449.3 224.70L454.60 230L449.3 235.30L444.00 230Z" fill="#ececec" stroke="#222" stroke-width="1.05"/>
<path d="M480.2 223.20L485.50 228.5L480.2 233.80L474.90 228.5Z" fill="#ececec" stroke="#222" stroke-width="1.05"/>
<path d="M470.1 232.10L475.40 237.4L470.1 242.70L464.80 237.4Z" fill="#ececec" stroke="#222" stroke-width="1.05"/>
<path d="M466.4 235.90L471.70 241.2L466.4 246.50L461.10 241.2Z" fill="#ececec" stroke="#222" stroke-width="1.05"/>
<path d="M455.3 240.30L460.60 245.6L455.3 250.90L450.00 245.6Z" fill="#ececec" stroke="#222" stroke-width="1.05"/>
<path d="M464.9 249.20L470.20 254.5L464.9 259.80L459.60 254.5Z" fill="#ececec" stroke="#222" stroke-width="1.05"/>
<path d="M450.8 249.20L456.10 254.5L450.8 259.80L445.50 254.5Z" fill="#ececec" stroke="#222" stroke-width="1.05"/>
<path d="M456.8 255.90L462.10 261.2L456.8 266.50L451.50 261.2Z" fill="#ececec" stroke="#222" stroke-width="1.05"/>
<path d="M449.3 259.60L454.60 264.9L449.3 270.20L444.00 264.9Z" fill="#ececec" stroke="#222" stroke-width="1.05"/>
<path d="M463.4 261.10L468.70 266.4L463.4 271.70L458.10 266.4Z" fill="#ececec" stroke="#222" stroke-width="1.05"/>
<path d="M454.5 264.00L459.80 269.3L454.5 274.60L449.20 269.3Z" fill="#ececec" stroke="#222" stroke-width="1.05"/>
<path d="M326.3 327.5C328.58 327.62 335.45 328.00 340 328.2C344.55 328.40 348.37 328.33 353.6 328.7C358.83 329.07 366.45 330.20 371.4 330.4C376.35 330.60 379.93 330.48 383.3 329.9C386.67 329.32 389.15 328.30 391.6 326.9C394.05 325.50 396.18 323.07 398 321.5C399.82 319.93 400.83 319.50 402.5 317.5C404.17 315.50 406.03 312.57 408 309.5C409.97 306.43 412.22 302.57 414.3 299.1C416.38 295.63 418.60 292.00 420.5 288.7C422.40 285.40 423.80 282.42 425.7 279.3C427.60 276.18 429.20 273.63 431.9 270C434.60 266.37 438.50 261.32 441.9 257.5C445.30 253.68 448.58 250.07 452.3 247.1C456.02 244.13 460.73 241.43 464.2 239.7C467.67 237.97 470.38 237.25 473.1 236.7C475.82 236.15 479.27 236.45 480.5 236.4" fill="none" stroke="#0fa757" stroke-width="1.75" stroke-linecap="round"/>
<text x="426.2" y="426.6" class="g"><tspan font-style="italic">s</tspan> = 0.07</text>
<rect x="582.60" y="254.60" width="8.2" height="8.2" fill="#e9e9e9" stroke="#2a2a2a" stroke-width="1.1"/>
<rect x="592.40" y="259.30" width="8.2" height="8.2" fill="#e9e9e9" stroke="#2a2a2a" stroke-width="1.1"/>
<rect x="601.20" y="253.00" width="8.2" height="8.2" fill="#e9e9e9" stroke="#2a2a2a" stroke-width="1.1"/>
<rect x="605.30" y="263.50" width="8.2" height="8.2" fill="#e9e9e9" stroke="#2a2a2a" stroke-width="1.1"/>
<rect x="597.80" y="279.50" width="8.2" height="8.2" fill="#e9e9e9" stroke="#2a2a2a" stroke-width="1.1"/>
<rect x="600.50" y="276.20" width="8.2" height="8.2" fill="#e9e9e9" stroke="#2a2a2a" stroke-width="1.1"/>
<rect x="598.00" y="286.40" width="8.2" height="8.2" fill="#e9e9e9" stroke="#2a2a2a" stroke-width="1.1"/>
<rect x="605.40" y="289.10" width="8.2" height="8.2" fill="#e9e9e9" stroke="#2a2a2a" stroke-width="1.1"/>
<rect x="609.80" y="297.10" width="8.2" height="8.2" fill="#e9e9e9" stroke="#2a2a2a" stroke-width="1.1"/>
<rect x="618.10" y="292.90" width="8.2" height="8.2" fill="#e9e9e9" stroke="#2a2a2a" stroke-width="1.1"/>
<rect x="618.20" y="272.10" width="8.2" height="8.2" fill="#e9e9e9" stroke="#2a2a2a" stroke-width="1.1"/>
<rect x="632.40" y="237.10" width="8.2" height="8.2" fill="#e9e9e9" stroke="#2a2a2a" stroke-width="1.1"/>
<rect x="632.90" y="245.30" width="8.2" height="8.2" fill="#e9e9e9" stroke="#2a2a2a" stroke-width="1.1"/>
<rect x="653.20" y="248.20" width="8.2" height="8.2" fill="#e9e9e9" stroke="#2a2a2a" stroke-width="1.1"/>
<rect x="646.00" y="259.30" width="8.2" height="8.2" fill="#e9e9e9" stroke="#2a2a2a" stroke-width="1.1"/>
<rect x="636.00" y="268.00" width="8.2" height="8.2" fill="#e9e9e9" stroke="#2a2a2a" stroke-width="1.1"/>
<rect x="639.30" y="274.80" width="8.2" height="8.2" fill="#e9e9e9" stroke="#2a2a2a" stroke-width="1.1"/>
<rect x="647.30" y="275.30" width="8.2" height="8.2" fill="#e9e9e9" stroke="#2a2a2a" stroke-width="1.1"/>
<rect x="652.70" y="273.30" width="8.2" height="8.2" fill="#e9e9e9" stroke="#2a2a2a" stroke-width="1.1"/>
<rect x="651.30" y="277.30" width="8.2" height="8.2" fill="#e9e9e9" stroke="#2a2a2a" stroke-width="1.1"/>
<rect x="663.40" y="273.10" width="8.2" height="8.2" fill="#e9e9e9" stroke="#2a2a2a" stroke-width="1.1"/>
<rect x="668.90" y="224.90" width="8.2" height="8.2" fill="#e9e9e9" stroke="#2a2a2a" stroke-width="1.1"/>
<rect x="666.90" y="231.60" width="8.2" height="8.2" fill="#e9e9e9" stroke="#2a2a2a" stroke-width="1.1"/>
<rect x="684.30" y="231.60" width="8.2" height="8.2" fill="#e9e9e9" stroke="#2a2a2a" stroke-width="1.1"/>
<rect x="701.70" y="229.30" width="8.2" height="8.2" fill="#e9e9e9" stroke="#2a2a2a" stroke-width="1.1"/>
<rect x="670.30" y="250.30" width="8.2" height="8.2" fill="#e9e9e9" stroke="#2a2a2a" stroke-width="1.1"/>
<rect x="676.30" y="254.30" width="8.2" height="8.2" fill="#e9e9e9" stroke="#2a2a2a" stroke-width="1.1"/>
<rect x="676.30" y="257.90" width="8.2" height="8.2" fill="#e9e9e9" stroke="#2a2a2a" stroke-width="1.1"/>
<rect x="691.00" y="244.30" width="8.2" height="8.2" fill="#e9e9e9" stroke="#2a2a2a" stroke-width="1.1"/>
<rect x="699.00" y="242.30" width="8.2" height="8.2" fill="#e9e9e9" stroke="#2a2a2a" stroke-width="1.1"/>
<rect x="695.00" y="256.10" width="8.2" height="8.2" fill="#e9e9e9" stroke="#2a2a2a" stroke-width="1.1"/>
<rect x="687.00" y="266.80" width="8.2" height="8.2" fill="#e9e9e9" stroke="#2a2a2a" stroke-width="1.1"/>
<rect x="698.30" y="268.40" width="8.2" height="8.2" fill="#e9e9e9" stroke="#2a2a2a" stroke-width="1.1"/>
<rect x="652.90" y="276.40" width="8.2" height="8.2" fill="#e9e9e9" stroke="#2a2a2a" stroke-width="1.1"/>
<rect x="669.60" y="281.70" width="8.2" height="8.2" fill="#e9e9e9" stroke="#2a2a2a" stroke-width="1.1"/>
<rect x="735.10" y="270.40" width="8.2" height="8.2" fill="#e9e9e9" stroke="#2a2a2a" stroke-width="1.1"/>
<rect x="735.10" y="293.10" width="8.2" height="8.2" fill="#e9e9e9" stroke="#2a2a2a" stroke-width="1.1"/>
<path d="M584.7 275.8C587.25 275.87 594.43 275.93 600 276.2C605.57 276.47 611.75 276.87 618.1 277.4C624.45 277.93 632.55 278.83 638.1 279.4C643.65 279.97 647.62 280.73 651.4 280.8C655.18 280.87 657.70 280.70 660.8 279.8C663.90 278.90 667.23 276.80 670 275.4C672.77 274.00 674.93 273.13 677.4 271.4C679.87 269.67 682.32 267.35 684.8 265C687.28 262.65 689.82 259.77 692.3 257.3C694.78 254.83 697.23 252.32 699.7 250.2C702.17 248.08 704.63 246.20 707.1 244.6C709.57 243.00 712.05 241.90 714.5 240.6C716.95 239.30 719.22 237.80 721.8 236.8C724.38 235.80 727.22 235.17 730 234.6C732.78 234.03 737.08 233.60 738.5 233.4" fill="none" stroke="#0fa757" stroke-width="1.75" stroke-linecap="round"/>
<text x="683.6" y="426.5" class="g"><tspan font-style="italic">s</tspan> = 0.32</text>
<circle cx="66.8" cy="584.5" r="4.4" fill="#f1f1f1" stroke="#1a1a1a" stroke-width="1.1"/>
<circle cx="87.3" cy="602.8" r="4.4" fill="#f1f1f1" stroke="#1a1a1a" stroke-width="1.1"/>
<circle cx="97.5" cy="564.4" r="4.4" fill="#f1f1f1" stroke="#1a1a1a" stroke-width="1.1"/>
<circle cx="97.5" cy="595.1" r="4.4" fill="#f1f1f1" stroke="#1a1a1a" stroke-width="1.1"/>
<circle cx="104.7" cy="594.2" r="4.4" fill="#f1f1f1" stroke="#1a1a1a" stroke-width="1.1"/>
<circle cx="112.1" cy="566.1" r="4.4" fill="#f1f1f1" stroke="#1a1a1a" stroke-width="1.1"/>
<circle cx="111.2" cy="578" r="4.4" fill="#f1f1f1" stroke="#1a1a1a" stroke-width="1.1"/>
<circle cx="111.2" cy="589.1" r="4.4" fill="#f1f1f1" stroke="#1a1a1a" stroke-width="1.1"/>
<circle cx="114.6" cy="587.4" r="4.4" fill="#f1f1f1" stroke="#1a1a1a" stroke-width="1.1"/>
<circle cx="117.2" cy="574.6" r="4.4" fill="#f1f1f1" stroke="#1a1a1a" stroke-width="1.1"/>
<circle cx="118.9" cy="564.4" r="4.4" fill="#f1f1f1" stroke="#1a1a1a" stroke-width="1.1"/>
<circle cx="119.4" cy="543" r="4.4" fill="#f1f1f1" stroke="#1a1a1a" stroke-width="1.1"/>
<circle cx="123.2" cy="562.7" r="4.4" fill="#f1f1f1" stroke="#1a1a1a" stroke-width="1.1"/>
<circle cx="127.4" cy="566.1" r="4.4" fill="#f1f1f1" stroke="#1a1a1a" stroke-width="1.1"/>
<circle cx="128.3" cy="555.5" r="4.4" fill="#f1f1f1" stroke="#1a1a1a" stroke-width="1.1"/>
<circle cx="124" cy="574.6" r="4.4" fill="#f1f1f1" stroke="#1a1a1a" stroke-width="1.1"/>
<circle cx="127.9" cy="580.6" r="4.4" fill="#f1f1f1" stroke="#1a1a1a" stroke-width="1.1"/>
<circle cx="124" cy="584.9" r="4.4" fill="#f1f1f1" stroke="#1a1a1a" stroke-width="1.1"/>
<circle cx="122.3" cy="590" r="4.4" fill="#f1f1f1" stroke="#1a1a1a" stroke-width="1.1"/>
<circle cx="118" cy="588.3" r="4.4" fill="#f1f1f1" stroke="#1a1a1a" stroke-width="1.1"/>
<circle cx="129.1" cy="592.5" r="4.4" fill="#f1f1f1" stroke="#1a1a1a" stroke-width="1.1"/>
<circle cx="132.5" cy="598.2" r="4.4" fill="#f1f1f1" stroke="#1a1a1a" stroke-width="1.1"/>
<circle cx="166.9" cy="535" r="4.4" fill="#f1f1f1" stroke="#1a1a1a" stroke-width="1.1"/>
<circle cx="197.3" cy="550.4" r="4.4" fill="#f1f1f1" stroke="#1a1a1a" stroke-width="1.1"/>
<circle cx="145.6" cy="557.9" r="4.4" fill="#f1f1f1" stroke="#1a1a1a" stroke-width="1.1"/>
<circle cx="145.6" cy="573.7" r="4.4" fill="#f1f1f1" stroke="#1a1a1a" stroke-width="1.1"/>
<circle cx="167.4" cy="572" r="4.4" fill="#f1f1f1" stroke="#1a1a1a" stroke-width="1.1"/>
<circle cx="201.2" cy="570.3" r="4.4" fill="#f1f1f1" stroke="#1a1a1a" stroke-width="1.1"/>
<circle cx="142.7" cy="582.3" r="4.4" fill="#f1f1f1" stroke="#1a1a1a" stroke-width="1.1"/>
<circle cx="153.4" cy="584.5" r="4.4" fill="#f1f1f1" stroke="#1a1a1a" stroke-width="1.1"/>
<circle cx="158.9" cy="585.7" r="4.4" fill="#f1f1f1" stroke="#1a1a1a" stroke-width="1.1"/>
<circle cx="156.3" cy="588.2" r="4.4" fill="#f1f1f1" stroke="#1a1a1a" stroke-width="1.1"/>
<circle cx="166.6" cy="585.7" r="4.4" fill="#f1f1f1" stroke="#1a1a1a" stroke-width="1.1"/>
<circle cx="171.7" cy="584.8" r="4.4" fill="#f1f1f1" stroke="#1a1a1a" stroke-width="1.1"/>
<circle cx="173.4" cy="587.4" r="4.4" fill="#f1f1f1" stroke="#1a1a1a" stroke-width="1.1"/>
<circle cx="188.7" cy="582.3" r="4.4" fill="#f1f1f1" stroke="#1a1a1a" stroke-width="1.1"/>
<circle cx="195.5" cy="580" r="4.4" fill="#f1f1f1" stroke="#1a1a1a" stroke-width="1.1"/>
<circle cx="191.3" cy="584.5" r="4.4" fill="#f1f1f1" stroke="#1a1a1a" stroke-width="1.1"/>
<circle cx="182.8" cy="588.2" r="4.4" fill="#f1f1f1" stroke="#1a1a1a" stroke-width="1.1"/>
<circle cx="203.2" cy="587.9" r="4.4" fill="#f1f1f1" stroke="#1a1a1a" stroke-width="1.1"/>
<circle cx="220.6" cy="588.2" r="4.4" fill="#f1f1f1" stroke="#1a1a1a" stroke-width="1.1"/>
<circle cx="144.4" cy="591.6" r="4.4" fill="#f1f1f1" stroke="#1a1a1a" stroke-width="1.1"/>
<circle cx="149.5" cy="591.6" r="4.4" fill="#f1f1f1" stroke="#1a1a1a" stroke-width="1.1"/>
<circle cx="141.8" cy="593.3" r="4.4" fill="#f1f1f1" stroke="#1a1a1a" stroke-width="1.1"/>
<circle cx="175.9" cy="593.3" r="4.4" fill="#f1f1f1" stroke="#1a1a1a" stroke-width="1.1"/>
<circle cx="184.5" cy="594.2" r="4.4" fill="#f1f1f1" stroke="#1a1a1a" stroke-width="1.1"/>
<circle cx="187.9" cy="590.8" r="4.4" fill="#f1f1f1" stroke="#1a1a1a" stroke-width="1.1"/>
<circle cx="196.4" cy="591.6" r="4.4" fill="#f1f1f1" stroke="#1a1a1a" stroke-width="1.1"/>
<circle cx="193.8" cy="597.6" r="4.4" fill="#f1f1f1" stroke="#1a1a1a" stroke-width="1.1"/>
<circle cx="200.7" cy="595.9" r="4.4" fill="#f1f1f1" stroke="#1a1a1a" stroke-width="1.1"/>
<circle cx="205.8" cy="595" r="4.4" fill="#f1f1f1" stroke="#1a1a1a" stroke-width="1.1"/>
<circle cx="150" cy="598.8" r="4.4" fill="#f1f1f1" stroke="#1a1a1a" stroke-width="1.1"/>
<circle cx="152.1" cy="602.7" r="4.4" fill="#f1f1f1" stroke="#1a1a1a" stroke-width="1.1"/>
<circle cx="165.4" cy="596.4" r="4.4" fill="#f1f1f1" stroke="#1a1a1a" stroke-width="1.1"/>
<circle cx="173.4" cy="601.9" r="4.4" fill="#f1f1f1" stroke="#1a1a1a" stroke-width="1.1"/>
<circle cx="179.3" cy="601.9" r="4.4" fill="#f1f1f1" stroke="#1a1a1a" stroke-width="1.1"/>
<circle cx="181.1" cy="599.3" r="4.4" fill="#f1f1f1" stroke="#1a1a1a" stroke-width="1.1"/>
<circle cx="177.6" cy="603.6" r="4.4" fill="#f1f1f1" stroke="#1a1a1a" stroke-width="1.1"/>
<circle cx="186.2" cy="600.2" r="4.4" fill="#f1f1f1" stroke="#1a1a1a" stroke-width="1.1"/>
<circle cx="210" cy="599.3" r="4.4" fill="#f1f1f1" stroke="#1a1a1a" stroke-width="1.1"/>
<circle cx="195" cy="603.6" r="4.4" fill="#f1f1f1" stroke="#1a1a1a" stroke-width="1.1"/>
<circle cx="208.3" cy="603.6" r="4.4" fill="#f1f1f1" stroke="#1a1a1a" stroke-width="1.1"/>
<circle cx="164.8" cy="606.1" r="4.4" fill="#f1f1f1" stroke="#1a1a1a" stroke-width="1.1"/>
<circle cx="207.5" cy="607.8" r="4.4" fill="#f1f1f1" stroke="#1a1a1a" stroke-width="1.1"/>
<circle cx="193.8" cy="610.1" r="4.4" fill="#f1f1f1" stroke="#1a1a1a" stroke-width="1.1"/>
<path d="M326.5 591.80L331.60 596.9L326.5 602.00L321.40 596.9Z" fill="#ececec" stroke="#222" stroke-width="1.05"/>
<path d="M339.8 578.80L344.90 583.9L339.8 589.00L334.70 583.9Z" fill="#ececec" stroke="#222" stroke-width="1.05"/>
<path d="M343 585.00L348.10 590.1L343 595.20L337.90 590.1Z" fill="#ececec" stroke="#222" stroke-width="1.05"/>
<path d="M345.8 589.00L350.90 594.1L345.8 599.20L340.70 594.1Z" fill="#ececec" stroke="#222" stroke-width="1.05"/>
<path d="M341.3 594.70L346.40 599.8L341.3 604.90L336.20 599.8Z" fill="#ececec" stroke="#222" stroke-width="1.05"/>
<path d="M339 599.80L344.10 604.9L339 610.00L333.90 604.9Z" fill="#ececec" stroke="#222" stroke-width="1.05"/>
<path d="M336.8 594.10L341.90 599.2L336.8 604.30L331.70 599.2Z" fill="#ececec" stroke="#222" stroke-width="1.05"/>
<path d="M352.7 589.60L357.80 594.7L352.7 599.80L347.60 594.7Z" fill="#ececec" stroke="#222" stroke-width="1.05"/>
<path d="M351 598.70L356.10 603.8L351 608.90L345.90 603.8Z" fill="#ececec" stroke="#222" stroke-width="1.05"/>
<path d="M358.3 590.10L363.40 595.2L358.3 600.30L353.20 595.2Z" fill="#ececec" stroke="#222" stroke-width="1.05"/>
<path d="M360 595.80L365.10 600.9L360 606.00L354.90 600.9Z" fill="#ececec" stroke="#222" stroke-width="1.05"/>
<path d="M361.8 598.10L366.90 603.2L361.8 608.30L356.70 603.2Z" fill="#ececec" stroke="#222" stroke-width="1.05"/>
<path d="M365.2 591.30L370.30 596.4L365.2 601.50L360.10 596.4Z" fill="#ececec" stroke="#222" stroke-width="1.05"/>
<path d="M374.8 596.40L379.90 601.5L374.8 606.60L369.70 601.5Z" fill="#ececec" stroke="#222" stroke-width="1.05"/>
<path d="M379.4 597.50L384.50 602.6L379.4 607.70L374.30 602.6Z" fill="#ececec" stroke="#222" stroke-width="1.05"/>
<path d="M381.1 587.30L386.20 592.4L381.1 597.50L376.00 592.4Z" fill="#ececec" stroke="#222" stroke-width="1.05"/>
<path d="M385 591.30L390.10 596.4L385 601.50L379.90 596.4Z" fill="#ececec" stroke="#222" stroke-width="1.05"/>
<path d="M392.4 592.40L397.50 597.5L392.4 602.60L387.30 597.5Z" fill="#ececec" stroke="#222" stroke-width="1.05"/>
<path d="M395.3 596.40L400.40 601.5L395.3 606.60L390.20 601.5Z" fill="#ececec" stroke="#222" stroke-width="1.05"/>
<path d="M401 598.10L406.10 603.2L401 608.30L395.90 603.2Z" fill="#ececec" stroke="#222" stroke-width="1.05"/>
<path d="M406.2 591.70L411.30 596.8L406.2 601.90L401.10 596.8Z" fill="#ececec" stroke="#222" stroke-width="1.05"/>
<path d="M411.8 596.20L416.90 601.3L411.8 606.40L406.70 601.3Z" fill="#ececec" stroke="#222" stroke-width="1.05"/>
<path d="M420.4 596.80L425.50 601.9L420.4 607.00L415.30 601.9Z" fill="#ececec" stroke="#222" stroke-width="1.05"/>
<path d="M424 585.10L429.10 590.2L424 595.30L418.90 590.2Z" fill="#ececec" stroke="#222" stroke-width="1.05"/>
<path d="M428.7 600.60L433.80 605.7L428.7 610.80L423.60 605.7Z" fill="#ececec" stroke="#222" stroke-width="1.05"/>
<path d="M431.2 594.90L436.30 600L431.2 605.10L426.10 600Z" fill="#ececec" stroke="#222" stroke-width="1.05"/>
<path d="M436.9 591.10L442.00 596.2L436.9 601.30L431.80 596.2Z" fill="#ececec" stroke="#222" stroke-width="1.05"/>
<path d="M449.6 577.10L454.70 582.2L449.6 587.30L444.50 582.2Z" fill="#ececec" stroke="#222" stroke-width="1.05"/>
<path d="M448.3 586.00L453.40 591.1L448.3 596.20L443.20 591.1Z" fill="#ececec" stroke="#222" stroke-width="1.05"/>
<path d="M456 589.80L461.10 594.9L456 600.00L450.90 594.9Z" fill="#ececec" stroke="#222" stroke-width="1.05"/>
<path d="M464.2 586.60L469.30 591.7L464.2 596.80L459.10 591.7Z" fill="#ececec" stroke="#222" stroke-width="1.05"/>
<path d="M462.3 594.90L467.40 600L462.3 605.10L457.20 600Z" fill="#ececec" stroke="#222" stroke-width="1.05"/>
<path d="M467.4 590.50L472.50 595.6L467.4 600.70L462.30 595.6Z" fill="#ececec" stroke="#222" stroke-width="1.05"/>
<path d="M471.2 594.90L476.30 600L471.2 605.10L466.10 600Z" fill="#ececec" stroke="#222" stroke-width="1.05"/>
<path d="M468 598.70L473.10 603.8L468 608.90L462.90 603.8Z" fill="#ececec" stroke="#222" stroke-width="1.05"/>
<path d="M480.1 596.80L485.20 601.9L480.1 607.00L475.00 601.9Z" fill="#ececec" stroke="#222" stroke-width="1.05"/>
<path d="M454.7 598.70L459.80 603.8L454.7 608.90L449.60 603.8Z" fill="#ececec" stroke="#222" stroke-width="1.05"/>
<path d="M451.5 601.90L456.60 607L451.5 612.10L446.40 607Z" fill="#ececec" stroke="#222" stroke-width="1.05"/>
<path d="M446.4 605.10L451.50 610.2L446.4 615.30L441.30 610.2Z" fill="#ececec" stroke="#222" stroke-width="1.05"/>
<rect x="582.20" y="591.00" width="8.0" height="8.0" fill="#e9e9e9" stroke="#2a2a2a" stroke-width="1.1"/>
<rect x="600.40" y="574.00" width="8.0" height="8.0" fill="#e9e9e9" stroke="#2a2a2a" stroke-width="1.1"/>
<rect x="597.30" y="585.80" width="8.0" height="8.0" fill="#e9e9e9" stroke="#2a2a2a" stroke-width="1.1"/>
<rect x="591.60" y="596.00" width="8.0" height="8.0" fill="#e9e9e9" stroke="#2a2a2a" stroke-width="1.1"/>
<rect x="597.30" y="596.90" width="8.0" height="8.0" fill="#e9e9e9" stroke="#2a2a2a" stroke-width="1.1"/>
<rect x="600.10" y="592.60" width="8.0" height="8.0" fill="#e9e9e9" stroke="#2a2a2a" stroke-width="1.1"/>
<rect x="604.90" y="600.10" width="8.0" height="8.0" fill="#e9e9e9" stroke="#2a2a2a" stroke-width="1.1"/>
<rect x="609.20" y="596.00" width="8.0" height="8.0" fill="#e9e9e9" stroke="#2a2a2a" stroke-width="1.1"/>
<rect x="617.80" y="584.20" width="8.0" height="8.0" fill="#e9e9e9" stroke="#2a2a2a" stroke-width="1.1"/>
<rect x="618.30" y="591.50" width="8.0" height="8.0" fill="#e9e9e9" stroke="#2a2a2a" stroke-width="1.1"/>
<rect x="631.40" y="592.90" width="8.0" height="8.0" fill="#e9e9e9" stroke="#2a2a2a" stroke-width="1.1"/>
<rect x="631.40" y="599.80" width="8.0" height="8.0" fill="#e9e9e9" stroke="#2a2a2a" stroke-width="1.1"/>
<rect x="639.30" y="591.80" width="8.0" height="8.0" fill="#e9e9e9" stroke="#2a2a2a" stroke-width="1.1"/>
<rect x="635.40" y="596.00" width="8.0" height="8.0" fill="#e9e9e9" stroke="#2a2a2a" stroke-width="1.1"/>
<rect x="646.20" y="599.20" width="8.0" height="8.0" fill="#e9e9e9" stroke="#2a2a2a" stroke-width="1.1"/>
<rect x="651.30" y="590.10" width="8.0" height="8.0" fill="#e9e9e9" stroke="#2a2a2a" stroke-width="1.1"/>
<rect x="653.50" y="599.20" width="8.0" height="8.0" fill="#e9e9e9" stroke="#2a2a2a" stroke-width="1.1"/>
<rect x="652.40" y="594.60" width="8.0" height="8.0" fill="#e9e9e9" stroke="#2a2a2a" stroke-width="1.1"/>
<rect x="636.70" y="595.70" width="8.0" height="8.0" fill="#e9e9e9" stroke="#2a2a2a" stroke-width="1.1"/>
<rect x="669.50" y="587.00" width="8.0" height="8.0" fill="#e9e9e9" stroke="#2a2a2a" stroke-width="1.1"/>
<rect x="663.40" y="598.60" width="8.0" height="8.0" fill="#e9e9e9" stroke="#2a2a2a" stroke-width="1.1"/>
<rect x="670.40" y="595.30" width="8.0" height="8.0" fill="#e9e9e9" stroke="#2a2a2a" stroke-width="1.1"/>
<rect x="675.70" y="600.00" width="8.0" height="8.0" fill="#e9e9e9" stroke="#2a2a2a" stroke-width="1.1"/>
<rect x="676.40" y="603.40" width="8.0" height="8.0" fill="#e9e9e9" stroke="#2a2a2a" stroke-width="1.1"/>
<rect x="684.40" y="604.40" width="8.0" height="8.0" fill="#e9e9e9" stroke="#2a2a2a" stroke-width="1.1"/>
<rect x="687.30" y="591.40" width="8.0" height="8.0" fill="#e9e9e9" stroke="#2a2a2a" stroke-width="1.1"/>
<rect x="691.60" y="585.60" width="8.0" height="8.0" fill="#e9e9e9" stroke="#2a2a2a" stroke-width="1.1"/>
<rect x="697.40" y="587.00" width="8.0" height="8.0" fill="#e9e9e9" stroke="#2a2a2a" stroke-width="1.1"/>
<rect x="698.40" y="592.10" width="8.0" height="8.0" fill="#e9e9e9" stroke="#2a2a2a" stroke-width="1.1"/>
<rect x="698.80" y="598.60" width="8.0" height="8.0" fill="#e9e9e9" stroke="#2a2a2a" stroke-width="1.1"/>
<rect x="701.70" y="578.40" width="8.0" height="8.0" fill="#e9e9e9" stroke="#2a2a2a" stroke-width="1.1"/>
<rect x="735.30" y="596.10" width="8.0" height="8.0" fill="#e9e9e9" stroke="#2a2a2a" stroke-width="1.1"/>
</svg>
</body></html>
